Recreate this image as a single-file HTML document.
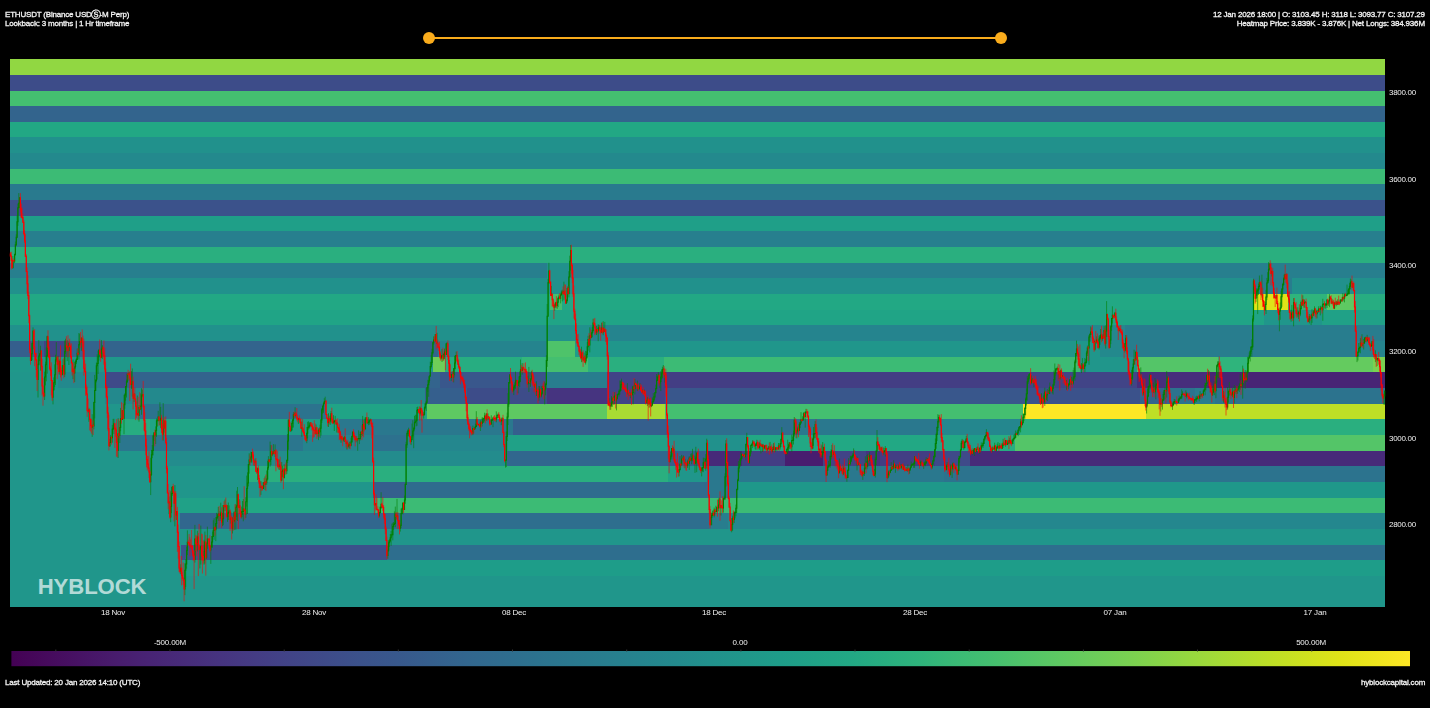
<!DOCTYPE html><html><head><meta charset="utf-8"><title>Hyblock</title><style>
html,body{margin:0;padding:0;background:#000;}
body{width:1430px;height:708px;overflow:hidden;position:relative;font-family:"Liberation Sans",sans-serif;color:#fff;}
.t{position:absolute;white-space:nowrap;font-size:8px;line-height:9px;color:#fff;-webkit-text-stroke:0.3px #f4f4f4;color:#f4f4f4;letter-spacing:-0.193px;will-change:transform;filter:blur(0.25px)}
.ax{position:absolute;white-space:nowrap;font-size:8px;line-height:9px;color:#f0f0f0;letter-spacing:-0.2px;will-change:transform;filter:blur(0.2px)}
svg{position:absolute;left:0;top:0}

</style></head><body>
<svg width="1430" height="708" viewBox="0 0 1430 708" >
<rect x="10" y="59" width="1375" height="548" fill="#91d742"/>
<rect x="10" y="75" width="1375" height="532" fill="#3d4c89"/>
<rect x="10" y="91" width="1375" height="516" fill="#44bf70"/>
<rect x="10" y="106" width="1375" height="501" fill="#33648d"/>
<rect x="10" y="122" width="1375" height="485" fill="#22a884"/>
<rect x="10" y="137" width="1375" height="470" fill="#21918c"/>
<rect x="10" y="153" width="1375" height="454" fill="#23898d"/>
<rect x="10" y="169" width="1375" height="438" fill="#3cbb75"/>
<rect x="10" y="184" width="1375" height="423" fill="#297a8e"/>
<rect x="10" y="200" width="1375" height="407" fill="#3b528b"/>
<rect x="10" y="216" width="1375" height="391" fill="#1f9f88"/>
<rect x="10" y="231" width="1375" height="376" fill="#277f8e"/>
<rect x="10" y="247" width="1375" height="360" fill="#2aaf7f"/>
<rect x="10" y="263" width="1375" height="344" fill="#277f8e"/>
<rect x="547" y="263" width="838" height="344" fill="#21918c"/>
<rect x="571" y="263" width="814" height="344" fill="#277f8e"/>
<rect x="10" y="278" width="1375" height="329" fill="#21918c"/>
<rect x="1253" y="278" width="132" height="329" fill="#287d8e"/>
<rect x="1292" y="278" width="93" height="329" fill="#21918c"/>
<rect x="10" y="294" width="1375" height="313" fill="#22a884"/>
<rect x="550" y="294" width="835" height="313" fill="#44bf70"/>
<rect x="562" y="294" width="823" height="313" fill="#22a884"/>
<rect x="1253" y="294" width="132" height="313" fill="#dfe318"/>
<rect x="1288" y="294" width="97" height="313" fill="#2fb47c"/>
<rect x="1327" y="294" width="58" height="313" fill="#5ec962"/>
<rect x="1355" y="294" width="30" height="313" fill="#27ad81"/>
<rect x="10" y="310" width="1375" height="297" fill="#20a486"/>
<rect x="1264" y="310" width="121" height="297" fill="#20968b"/>
<rect x="1322" y="310" width="63" height="297" fill="#20a187"/>
<rect x="10" y="325" width="1375" height="282" fill="#21918c"/>
<rect x="590" y="325" width="795" height="282" fill="#25848e"/>
<rect x="1091" y="325" width="294" height="282" fill="#24878e"/>
<rect x="1125" y="325" width="260" height="282" fill="#287d8e"/>
<rect x="10" y="341" width="1375" height="266" fill="#355f8d"/>
<rect x="44" y="341" width="1341" height="266" fill="#414487"/>
<rect x="67" y="341" width="1318" height="266" fill="#33648d"/>
<rect x="438" y="341" width="947" height="266" fill="#25848e"/>
<rect x="547" y="341" width="838" height="266" fill="#4ec36a"/>
<rect x="575" y="341" width="810" height="266" fill="#1e9d89"/>
<rect x="608" y="341" width="777" height="266" fill="#20968b"/>
<rect x="1100" y="341" width="285" height="266" fill="#23898d"/>
<rect x="1127" y="341" width="258" height="266" fill="#287d8e"/>
<rect x="1355" y="341" width="30" height="266" fill="#25848e"/>
<rect x="10" y="357" width="1375" height="250" fill="#1f988a"/>
<rect x="433" y="357" width="952" height="250" fill="#6fce58"/>
<rect x="445" y="357" width="940" height="250" fill="#27ad81"/>
<rect x="522" y="357" width="863" height="250" fill="#33b67a"/>
<rect x="547" y="357" width="838" height="250" fill="#44bf70"/>
<rect x="588" y="357" width="797" height="250" fill="#2aaf7f"/>
<rect x="664" y="357" width="721" height="250" fill="#3cbb75"/>
<rect x="1080" y="357" width="305" height="250" fill="#20968b"/>
<rect x="1137" y="357" width="248" height="250" fill="#54c568"/>
<rect x="1218" y="357" width="167" height="250" fill="#2fb47c"/>
<rect x="1248" y="357" width="137" height="250" fill="#64cb5f"/>
<rect x="1373" y="357" width="12" height="250" fill="#7ad151"/>
<rect x="10" y="372" width="1375" height="235" fill="#20968b"/>
<rect x="58" y="372" width="1327" height="235" fill="#23898d"/>
<rect x="105" y="372" width="1280" height="235" fill="#3f4a89"/>
<rect x="127" y="372" width="1258" height="235" fill="#33648d"/>
<rect x="440" y="372" width="945" height="235" fill="#39578c"/>
<rect x="509" y="372" width="876" height="235" fill="#3b528b"/>
<rect x="547" y="372" width="838" height="235" fill="#287d8e"/>
<rect x="607" y="372" width="778" height="235" fill="#414487"/>
<rect x="664" y="372" width="721" height="235" fill="#433e84"/>
<rect x="1028" y="372" width="357" height="235" fill="#414487"/>
<rect x="1137" y="372" width="248" height="235" fill="#472e7c"/>
<rect x="1208" y="372" width="177" height="235" fill="#482475"/>
<rect x="10" y="388" width="1375" height="219" fill="#20968b"/>
<rect x="105" y="388" width="1280" height="219" fill="#23898d"/>
<rect x="425" y="388" width="960" height="219" fill="#355f8d"/>
<rect x="467" y="388" width="918" height="219" fill="#3d4c89"/>
<rect x="547" y="388" width="838" height="219" fill="#463480"/>
<rect x="607" y="388" width="778" height="219" fill="#414487"/>
<rect x="665" y="388" width="720" height="219" fill="#39578c"/>
<rect x="1028" y="388" width="357" height="219" fill="#3b528b"/>
<rect x="1140" y="388" width="245" height="219" fill="#33648d"/>
<rect x="1170" y="388" width="215" height="219" fill="#2c738e"/>
<rect x="1195" y="388" width="190" height="219" fill="#287d8e"/>
<rect x="1215" y="388" width="170" height="219" fill="#2c738e"/>
<rect x="10" y="404" width="1375" height="203" fill="#20968b"/>
<rect x="140" y="404" width="1245" height="203" fill="#2c738e"/>
<rect x="326" y="404" width="1059" height="203" fill="#20a486"/>
<rect x="427" y="404" width="958" height="203" fill="#5ec962"/>
<rect x="607" y="404" width="778" height="203" fill="#a9db33"/>
<rect x="665" y="404" width="720" height="203" fill="#44bf70"/>
<rect x="1023" y="404" width="362" height="203" fill="#fde725"/>
<rect x="1146" y="404" width="239" height="203" fill="#bddf26"/>
<rect x="10" y="419" width="1375" height="188" fill="#20968b"/>
<rect x="119" y="419" width="1266" height="188" fill="#27ad81"/>
<rect x="150" y="419" width="1235" height="188" fill="#20a486"/>
<rect x="290" y="419" width="1095" height="188" fill="#1e9d89"/>
<rect x="339" y="419" width="1046" height="188" fill="#2a788e"/>
<rect x="513" y="419" width="872" height="188" fill="#355f8d"/>
<rect x="667" y="419" width="718" height="188" fill="#2e6e8e"/>
<rect x="800" y="419" width="585" height="188" fill="#2a788e"/>
<rect x="937" y="419" width="448" height="188" fill="#24878e"/>
<rect x="1020" y="419" width="365" height="188" fill="#2aaf7f"/>
<rect x="10" y="435" width="1375" height="172" fill="#20968b"/>
<rect x="118" y="435" width="1267" height="172" fill="#2b768e"/>
<rect x="303" y="435" width="1082" height="172" fill="#25848e"/>
<rect x="374" y="435" width="1011" height="172" fill="#2d718e"/>
<rect x="407" y="435" width="978" height="172" fill="#24878e"/>
<rect x="508" y="435" width="877" height="172" fill="#20a187"/>
<rect x="668" y="435" width="717" height="172" fill="#21918c"/>
<rect x="747" y="435" width="638" height="172" fill="#22a884"/>
<rect x="967" y="435" width="418" height="172" fill="#1e9d89"/>
<rect x="990" y="435" width="395" height="172" fill="#27ad81"/>
<rect x="1015" y="435" width="370" height="172" fill="#54c568"/>
<rect x="10" y="451" width="1375" height="156" fill="#20968b"/>
<rect x="168" y="451" width="1217" height="156" fill="#238c8d"/>
<rect x="507" y="451" width="878" height="156" fill="#31678e"/>
<rect x="669" y="451" width="716" height="156" fill="#355f8d"/>
<rect x="707" y="451" width="678" height="156" fill="#472a79"/>
<rect x="742" y="451" width="643" height="156" fill="#433e84"/>
<rect x="785" y="451" width="600" height="156" fill="#481d6f"/>
<rect x="823" y="451" width="562" height="156" fill="#414487"/>
<rect x="866" y="451" width="519" height="156" fill="#463480"/>
<rect x="880" y="451" width="505" height="156" fill="#433e84"/>
<rect x="935" y="451" width="450" height="156" fill="#3f4a89"/>
<rect x="970" y="451" width="415" height="156" fill="#472a79"/>
<rect x="10" y="466" width="1375" height="141" fill="#20968b"/>
<rect x="248" y="466" width="1137" height="141" fill="#2aaf7f"/>
<rect x="668" y="466" width="717" height="141" fill="#20a486"/>
<rect x="680" y="466" width="705" height="141" fill="#20968b"/>
<rect x="707" y="466" width="678" height="141" fill="#2a788e"/>
<rect x="944" y="466" width="441" height="141" fill="#2c738e"/>
<rect x="10" y="482" width="1375" height="125" fill="#20968b"/>
<rect x="373" y="482" width="1012" height="125" fill="#355f8d"/>
<rect x="406" y="482" width="979" height="125" fill="#2f6c8e"/>
<rect x="707" y="482" width="678" height="125" fill="#2a788e"/>
<rect x="738" y="482" width="647" height="125" fill="#1f988a"/>
<rect x="10" y="498" width="1375" height="109" fill="#20968b"/>
<rect x="177" y="498" width="1208" height="109" fill="#20a187"/>
<rect x="246" y="498" width="1139" height="109" fill="#22a884"/>
<rect x="376" y="498" width="1009" height="109" fill="#3cbb75"/>
<rect x="10" y="513" width="1375" height="94" fill="#20968b"/>
<rect x="180" y="513" width="1205" height="94" fill="#31678e"/>
<rect x="390" y="513" width="995" height="94" fill="#2e6e8e"/>
<rect x="709" y="513" width="676" height="94" fill="#287d8e"/>
<rect x="728" y="513" width="657" height="94" fill="#24878e"/>
<rect x="10" y="529" width="1375" height="78" fill="#20968b"/>
<rect x="10" y="545" width="1375" height="62" fill="#20968b"/>
<rect x="181" y="545" width="1204" height="62" fill="#3b528b"/>
<rect x="387" y="545" width="998" height="62" fill="#2e6e8e"/>
<rect x="10" y="560" width="1375" height="47" fill="#20968b"/>
<rect x="185" y="560" width="1200" height="47" fill="#1e9d89"/>
<rect x="10" y="576" width="1375" height="31" fill="#20968b"/>
<rect x="10" y="592" width="1375" height="15" fill="#20968b"/>
</svg>
<svg width="1430" height="708" viewBox="0 0 1430 708">
<path d="M12.9 256.0V268.9M14.6 253.6V263.1M15.4 241.5V255.7M16.3 234.3V246.2M17.1 215.5V238.1M17.9 203.5V225.9M18.8 193.1V207.8M19.6 197.3V208.0M31.3 353.5V360.6M32.1 342.6V360.2M33.0 327.4V348.9M38.0 356.9V397.5M38.8 340.0V365.4M39.6 353.1V361.1M40.5 345.7V370.6M44.6 371.6V400.0M45.5 361.6V385.4M46.3 347.4V381.3M47.2 335.7V373.7M53.0 386.2V404.4M53.8 377.4V389.9M54.7 364.3V387.0M55.5 354.8V385.0M56.3 342.1V362.1M58.0 355.8V369.3M59.7 359.4V374.6M62.2 365.3V374.9M63.0 359.4V371.5M64.7 340.4V376.9M65.5 338.7V353.8M67.2 340.1V361.1M68.9 341.8V365.0M73.0 359.5V379.2M74.7 361.7V382.0M75.5 359.9V368.6M76.4 358.1V364.1M77.2 348.5V359.8M78.9 333.0V359.5M79.7 333.7V345.9M81.4 337.4V350.8M88.9 407.8V421.8M92.2 414.2V436.9M93.9 401.7V429.3M94.7 374.9V418.4M95.6 379.2V390.9M96.4 362.5V382.4M97.2 354.4V379.6M98.1 350.6V374.0M98.9 348.9V360.6M101.4 340.0V357.4M102.3 345.1V359.1M109.8 438.9V447.0M110.6 434.9V442.7M112.3 424.9V442.7M113.1 418.9V429.4M113.9 418.8V434.1M118.1 418.2V458.0M119.8 420.8V443.0M120.6 407.9V431.2M122.3 410.0V419.9M124.0 394.8V434.2M124.8 393.3V408.7M125.6 386.3V400.8M126.5 379.7V397.5M127.3 373.8V382.9M129.0 372.0V380.7M131.5 371.1V388.9M132.3 368.4V396.6M134.0 393.2V402.0M137.3 395.5V415.5M139.0 404.8V421.7M140.7 393.5V410.1M141.5 388.2V414.8M142.3 389.6V397.3M150.7 457.7V495.1M151.5 449.9V476.0M152.3 445.0V458.2M153.2 434.7V455.4M154.0 432.1V440.8M155.7 426.4V444.0M156.5 418.5V436.9M157.4 419.0V426.6M158.2 410.8V420.8M159.9 402.3V425.1M160.7 406.9V427.9M163.2 403.1V440.6M164.9 420.2V432.6M169.0 496.5V514.1M170.7 491.3V522.2M171.5 487.0V513.1M172.4 486.5V495.8M174.9 485.1V526.4M176.6 511.2V520.0M180.7 564.3V574.2M184.9 563.3V595.2M185.7 559.2V587.0M186.6 546.6V568.7M187.4 530.4V555.1M194.9 524.9V562.6M197.4 530.8V551.5M199.9 546.8V568.4M200.8 525.6V564.5M204.1 539.8V564.7M204.9 531.5V563.6M206.6 542.2V559.1M207.4 526.7V548.8M210.8 544.8V563.9M211.6 536.0V548.0M212.5 531.6V547.8M213.3 520.2V536.7M214.1 518.3V539.8M215.8 517.0V541.1M216.6 512.8V528.6M217.5 513.9V518.9M218.3 507.0V520.9M220.0 511.1V521.0M220.8 502.7V518.7M222.5 513.0V526.2M223.3 505.3V525.3M225.0 499.6V511.1M227.5 505.1V521.9M228.3 502.5V520.0M229.1 505.4V517.1M230.8 511.8V523.6M232.5 517.3V533.5M234.2 511.1V530.0M235.8 504.3V529.8M236.7 490.7V516.8M237.5 487.0V521.0M239.2 499.2V507.9M241.7 506.6V518.4M242.5 501.0V514.8M243.3 499.1V521.3M245.8 497.2V517.8M246.7 475.6V506.6M247.5 472.3V514.0M248.4 464.5V486.4M249.2 453.3V473.7M250.9 451.6V462.8M251.7 452.1V462.6M255.0 458.6V466.2M257.5 467.6V480.0M260.9 481.0V494.9M263.4 482.5V489.1M265.0 476.4V490.0M266.7 470.5V484.9M267.6 460.9V480.5M268.4 456.2V469.9M270.1 441.6V466.5M270.9 445.1V465.2M272.6 450.9V456.1M273.4 444.1V454.2M275.1 444.4V457.0M279.2 459.5V470.0M281.7 462.0V481.4M282.6 465.7V476.9M284.2 464.3V478.6M286.8 459.4V473.9M287.6 434.0V462.9M288.4 419.9V449.8M290.9 427.9V431.8M291.8 421.3V430.3M292.6 419.1V427.7M293.4 412.2V427.5M295.1 407.2V417.6M298.4 418.3V424.0M301.8 421.4V436.7M306.8 426.9V443.2M307.6 421.8V438.4M308.5 421.3V429.6M309.3 423.3V428.6M310.1 422.0V427.3M316.0 424.5V434.6M318.5 428.4V440.1M320.1 424.7V437.9M321.0 419.1V435.6M321.8 408.0V423.0M322.7 405.9V413.7M323.5 402.3V412.8M324.3 398.2V403.8M325.2 396.7V401.9M328.5 413.2V427.0M330.2 415.6V424.8M331.0 411.1V422.4M333.5 415.2V423.4M334.3 420.2V431.0M335.2 415.9V423.6M336.8 421.9V432.5M341.0 436.2V442.8M343.5 437.4V441.4M344.4 435.9V442.0M346.9 441.0V449.6M348.5 443.3V447.5M349.4 441.7V448.6M351.0 437.7V446.4M351.9 436.1V442.2M352.7 431.9V439.8M356.0 435.9V442.4M357.7 438.1V450.8M358.6 430.3V438.9M359.4 438.4V444.1M360.2 431.7V440.4M361.1 431.8V437.2M362.7 415.9V436.1M365.2 417.3V429.8M366.1 417.6V421.3M367.7 419.3V423.1M368.6 417.2V425.2M369.4 419.6V424.6M370.2 418.4V421.6M375.2 503.4V506.2M379.4 511.8V517.3M380.3 506.2V513.4M381.1 492.2V508.9M387.8 545.8V558.7M388.6 540.4V551.8M389.4 538.9V546.9M390.3 534.0V542.4M391.1 531.0V545.9M391.9 523.7V536.6M392.8 522.7V540.4M393.6 522.0V529.9M394.4 511.4V525.2M395.3 506.6V527.2M397.0 498.9V519.3M400.3 523.7V531.6M401.1 508.5V528.2M402.0 507.6V513.9M402.8 502.4V514.5M404.5 495.6V509.6M405.3 483.3V503.8M406.1 441.8V484.8M407.0 431.3V447.9M407.8 429.4V435.9M408.6 427.7V436.4M411.1 437.3V445.1M412.0 423.6V440.4M412.8 420.2V437.5M413.7 426.8V448.2M414.5 415.9V430.3M415.3 414.7V423.6M416.2 415.1V426.4M417.0 407.1V425.8M417.8 406.6V413.5M420.3 406.8V415.6M423.7 412.0V418.6M424.5 406.5V415.4M425.3 403.4V409.4M426.2 400.7V411.0M427.0 387.2V403.5M427.8 379.8V392.0M428.7 376.3V396.8M429.5 375.4V382.8M430.3 361.7V376.9M431.2 355.0V368.5M432.0 348.8V365.1M432.9 341.8V354.5M433.7 336.4V344.7M435.4 334.3V342.0M437.0 332.8V344.1M441.2 355.0V359.5M442.0 349.1V362.0M443.7 353.5V360.5M444.5 348.6V359.2M446.2 343.7V354.8M447.0 342.0V347.3M451.2 374.7V380.9M452.1 371.3V374.8M453.7 368.0V382.4M454.6 356.0V375.3M455.4 355.2V369.2M456.2 351.6V356.9M472.9 425.6V435.1M474.6 427.6V430.0M475.4 423.7V428.2M476.3 411.2V427.2M478.8 424.3V425.2M480.4 420.2V431.0M482.1 417.5V426.5M482.9 417.2V422.5M483.8 418.3V422.7M484.6 412.7V421.3M486.3 413.5V420.7M488.0 413.4V419.8M491.3 415.3V424.6M492.1 419.2V421.0M493.0 417.6V427.2M496.3 411.3V422.3M497.1 415.2V418.7M498.0 413.4V415.6M501.3 420.6V425.2M502.1 417.1V421.9M505.5 459.5V467.6M506.3 431.5V467.1M507.2 412.6V441.0M508.0 393.1V425.0M508.8 382.0V406.9M509.7 374.1V384.0M513.0 384.1V392.0M513.8 385.4V395.1M514.7 382.4V389.3M515.5 371.6V388.7M516.3 379.8V384.4M518.0 380.0V393.3M518.8 376.4V384.1M519.7 371.4V387.2M520.5 359.5V381.9M522.2 363.1V374.7M528.0 375.8V384.9M528.9 366.9V392.0M530.5 378.8V386.8M531.4 370.9V380.6M534.7 384.1V387.8M536.4 381.3V396.0M538.9 386.0V400.7M539.7 386.0V396.8M541.4 391.7V397.3M542.2 385.7V394.7M544.7 381.6V404.4M545.6 383.1V395.3M546.4 355.2V385.3M547.2 304.0V366.9M548.1 279.0V316.2M548.9 262.8V283.5M551.4 285.9V296.1M554.7 303.5V310.7M555.6 301.8V307.4M557.2 298.7V308.8M558.1 297.8V307.1M558.9 294.6V299.9M560.6 293.5V303.4M561.4 290.6V295.0M562.3 289.7V301.4M563.9 281.7V300.4M566.4 298.9V303.7M567.3 286.6V302.6M568.9 271.2V297.4M569.8 255.7V277.4M570.6 245.0V270.5M581.5 346.7V362.2M584.0 352.6V361.5M585.6 350.9V364.5M586.5 351.4V361.3M587.3 342.0V358.3M588.1 335.8V350.7M589.8 327.3V352.4M591.5 331.9V338.1M592.3 327.1V337.3M593.1 318.7V332.6M596.5 325.9V335.1M598.2 324.4V341.2M599.0 324.8V329.2M601.5 322.7V332.9M603.2 321.2V335.2M604.8 321.9V331.7M609.0 398.3V405.8M610.7 402.8V409.8M611.5 396.2V406.7M612.3 398.1V406.9M614.0 395.7V404.9M614.8 392.1V397.4M616.5 396.9V410.4M617.4 394.4V399.4M618.2 393.1V395.4M619.0 389.6V396.6M619.9 380.4V394.6M620.7 380.7V391.1M621.5 378.6V387.8M627.4 383.1V394.4M629.0 392.6V396.1M630.7 392.6V398.2M632.4 386.2V395.5M633.2 385.5V404.3M634.9 379.1V394.5M637.4 380.6V391.0M639.1 386.3V390.0M639.9 383.2V389.2M642.4 389.5V392.5M644.1 389.5V393.9M646.6 399.8V402.5M647.4 396.9V406.1M649.1 398.3V407.7M651.6 404.4V407.1M652.4 397.5V405.5M653.3 393.1V402.7M654.1 396.7V401.7M654.9 392.3V398.3M655.8 384.7V393.2M656.6 374.0V389.1M657.4 376.9V381.0M658.3 372.2V380.6M659.9 379.5V387.9M660.8 371.2V391.1M661.6 369.5V379.4M662.4 366.8V378.3M663.3 365.0V374.7M664.9 372.2V382.6M669.9 453.9V462.7M670.8 451.7V459.5M671.6 448.0V457.5M673.3 446.8V459.5M679.1 469.4V476.3M680.0 456.1V470.5M681.6 454.9V465.7M683.3 455.3V461.3M685.0 458.8V468.3M687.5 459.7V467.9M689.2 456.2V469.9M690.8 453.8V461.2M691.7 453.3V464.2M692.5 448.8V461.3M695.0 455.6V472.9M695.8 446.8V463.7M696.7 452.5V472.2M701.7 466.8V476.4M702.5 467.2V471.6M703.3 457.6V472.2M704.2 457.9V464.5M705.8 454.1V470.7M706.7 438.7V461.6M710.9 512.2V525.0M711.7 513.2V525.3M712.5 510.6V516.3M714.2 507.6V517.4M715.9 505.7V513.8M716.7 506.6V512.2M718.4 499.9V511.3M719.2 497.7V508.3M720.9 505.1V515.5M723.4 498.1V512.6M724.2 495.7V500.1M725.1 473.3V500.0M725.9 440.1V486.5M731.7 518.1V532.3M732.6 515.7V530.7M734.2 511.5V523.1M735.1 511.4V518.3M735.9 504.6V516.2M736.7 489.0V513.1M737.6 478.8V490.3M738.4 461.1V480.9M739.2 464.1V472.4M740.1 458.4V466.7M740.9 451.9V461.2M741.7 453.7V458.5M743.4 455.1V456.3M745.1 452.9V457.1M745.9 444.1V460.3M746.8 432.8V446.5M749.3 455.8V463.9M750.1 448.1V456.4M750.9 444.5V453.9M751.8 444.0V445.7M752.6 440.2V448.1M755.1 443.8V449.3M755.9 443.9V449.8M756.8 439.8V446.0M759.3 441.8V449.9M760.9 443.4V453.4M762.6 443.9V451.9M764.3 445.3V448.6M765.1 445.4V450.4M767.6 447.7V450.6M768.5 445.9V449.3M770.1 441.9V450.3M772.6 446.9V452.3M773.5 443.1V449.5M775.1 448.6V452.1M776.0 447.3V450.9M778.5 443.0V449.6M780.2 443.3V449.5M781.0 438.5V447.0M781.8 427.1V441.5M786.8 448.3V455.3M787.7 439.7V453.2M788.5 444.0V451.3M789.3 442.0V448.9M791.8 434.6V451.9M792.7 436.6V440.8M793.5 430.5V444.5M794.3 417.0V436.5M796.8 430.4V438.4M797.7 426.6V431.6M799.4 422.4V431.1M800.2 421.9V428.1M801.0 412.2V423.1M802.7 416.3V421.0M803.5 412.3V420.3M805.2 411.3V427.7M806.0 408.8V414.0M812.7 437.9V449.3M813.5 426.9V445.8M814.4 433.2V438.3M815.2 421.1V438.2M819.4 449.0V452.9M821.9 445.4V456.6M822.7 442.0V457.5M823.6 446.6V453.1M826.9 464.6V475.5M827.7 465.6V470.7M828.6 460.9V467.4M829.4 463.6V466.6M830.2 455.4V467.7M831.1 449.3V459.5M831.9 444.9V457.5M833.6 451.7V454.7M839.4 458.5V473.3M841.1 468.1V471.6M843.6 466.3V475.0M846.9 475.8V481.8M847.8 469.8V477.8M848.6 458.2V470.6M850.3 456.1V465.5M851.1 455.4V462.1M851.9 455.8V459.1M852.8 453.1V458.0M853.6 448.4V456.2M857.0 456.5V470.4M858.6 461.7V465.2M862.8 470.9V479.9M864.5 463.7V475.9M865.3 456.3V469.7M867.0 455.0V469.2M867.8 453.8V466.9M869.5 452.2V461.3M870.3 455.5V458.8M874.5 468.9V475.9M875.3 457.3V477.5M876.2 450.6V465.1M877.0 430.0V451.3M881.2 447.0V450.1M883.7 447.5V454.6M884.5 450.6V451.7M885.3 446.1V456.5M887.8 472.9V478.9M888.7 470.3V477.3M890.4 469.9V473.2M891.2 462.2V471.0M892.9 466.1V469.6M893.7 460.2V468.1M895.4 464.5V472.8M896.2 465.3V467.3M898.7 464.5V469.4M901.2 464.5V469.2M903.7 464.7V469.4M906.2 467.0V471.0M907.9 464.5V471.8M909.6 468.7V473.7M910.4 467.1V470.6M911.2 461.6V467.9M912.1 464.2V465.5M912.9 463.3V465.3M913.7 461.8V467.9M914.6 456.1V467.8M920.4 460.6V466.0M921.2 460.7V464.1M923.7 462.7V468.9M924.6 461.7V465.4M925.4 461.3V466.2M926.2 457.3V463.9M927.9 458.1V461.3M932.1 463.8V468.9M932.9 460.6V464.7M933.8 455.9V461.9M934.6 449.8V457.9M935.4 438.5V457.1M936.3 432.7V448.8M937.1 426.4V440.9M937.9 414.2V431.1M938.8 415.2V423.1M946.3 465.6V469.9M947.1 462.1V469.6M950.5 464.6V475.4M952.1 464.5V477.9M953.0 462.4V470.0M955.5 466.5V469.7M958.0 469.5V475.0M958.8 455.8V471.1M959.6 455.9V462.7M960.5 449.3V457.5M961.3 440.9V450.1M962.1 438.9V444.2M963.8 440.5V449.8M964.7 441.5V448.4M965.5 439.4V442.5M966.3 435.8V442.1M971.3 449.8V453.5M973.0 450.0V455.1M973.8 448.3V451.5M974.7 448.4V456.0M976.3 449.6V452.1M977.2 446.5V449.7M979.7 447.2V454.0M981.3 442.4V450.9M982.2 444.6V447.2M983.0 441.6V447.9M983.9 438.5V443.6M984.7 436.2V440.7M985.5 434.7V438.6M986.4 429.2V436.8M992.2 446.7V452.1M993.9 447.8V449.3M994.7 442.7V450.8M996.4 446.5V451.2M997.2 443.6V449.1M998.0 442.1V448.8M999.7 443.2V448.5M1002.2 444.2V448.9M1003.1 438.8V447.9M1005.6 440.3V446.7M1007.2 442.5V445.2M1008.1 439.8V443.9M1009.7 437.7V444.1M1012.2 439.2V444.4M1013.1 439.0V444.0M1013.9 434.8V439.5M1014.7 433.6V439.1M1015.6 430.5V437.8M1017.2 431.5V434.6M1018.1 429.6V436.2M1018.9 426.7V431.6M1019.8 426.0V429.5M1020.6 418.8V432.4M1022.3 420.2V425.1M1023.1 413.6V423.2M1023.9 413.3V421.1M1024.8 406.9V418.8M1025.6 397.6V415.4M1026.4 388.3V405.5M1027.3 375.9V400.7M1028.1 377.5V383.9M1028.9 373.6V380.6M1029.8 373.2V378.4M1031.4 375.3V383.3M1032.3 377.9V382.1M1033.9 380.2V387.1M1041.5 393.3V403.8M1044.0 393.1V402.4M1044.8 387.7V405.9M1046.5 394.0V400.1M1047.3 389.1V401.1M1049.0 387.6V394.1M1049.8 382.5V394.1M1052.3 386.9V393.4M1053.1 383.7V394.5M1054.0 370.6V385.6M1054.8 363.5V383.3M1055.7 368.5V375.6M1056.5 367.8V370.5M1057.3 366.6V370.6M1059.0 371.0V379.1M1060.7 369.6V379.7M1062.3 375.0V376.7M1066.5 380.0V389.7M1068.2 383.1V389.3M1069.0 382.8V385.9M1069.8 379.1V384.5M1071.5 376.9V384.8M1073.2 369.9V384.7M1074.0 367.6V378.3M1074.9 359.7V380.8M1075.7 353.5V363.5M1076.5 340.6V356.1M1081.5 363.0V373.1M1082.4 358.1V369.7M1084.0 365.7V368.9M1084.9 358.0V372.4M1085.7 359.1V366.2M1086.5 350.8V363.4M1087.4 345.6V356.0M1089.0 335.0V364.8M1089.9 333.3V341.9M1090.7 326.4V334.6M1094.9 339.9V350.6M1096.6 336.4V343.6M1099.1 335.7V349.5M1099.9 335.0V344.9M1100.7 329.0V338.5M1102.4 334.4V340.7M1104.1 325.8V338.2M1105.7 325.4V348.6M1106.6 301.1V336.8M1109.9 338.9V348.1M1110.8 325.2V344.1M1111.6 318.5V330.9M1112.4 306.3V323.5M1114.9 311.9V317.0M1119.1 327.6V331.4M1124.9 343.7V352.5M1125.8 335.0V349.6M1131.6 369.8V385.6M1132.5 366.8V379.8M1133.3 359.4V373.2M1134.1 349.7V364.5M1135.8 350.8V360.1M1140.8 367.4V378.9M1143.3 383.5V395.4M1146.6 401.6V413.5M1147.5 388.7V406.5M1148.3 386.1V397.2M1149.2 377.6V392.9M1150.0 373.6V389.3M1153.3 382.6V393.1M1155.0 378.1V393.4M1155.8 380.4V399.3M1156.7 383.5V385.8M1160.8 397.9V411.5M1162.5 399.1V409.6M1163.3 391.6V401.0M1164.2 390.4V400.4M1165.0 387.3V399.2M1166.7 371.1V397.6M1167.5 376.5V382.9M1172.5 402.9V409.9M1173.4 401.6V405.9M1174.2 398.9V404.1M1175.0 399.4V404.7M1178.4 398.4V403.0M1179.2 395.6V401.5M1180.0 397.4V398.8M1180.9 396.2V398.2M1181.7 389.4V399.1M1182.5 391.3V394.9M1185.9 390.3V396.8M1186.7 392.1V398.4M1194.2 399.2V405.0M1195.1 399.0V402.9M1195.9 396.6V400.9M1196.7 395.7V402.1M1197.6 397.1V399.4M1199.2 396.2V401.3M1200.1 391.2V398.9M1201.8 393.3V396.8M1203.4 389.8V395.4M1204.3 388.1V391.8M1205.1 382.6V395.3M1205.9 383.1V390.4M1206.8 374.9V386.3M1208.4 369.9V382.5M1212.6 386.1V395.8M1213.4 387.7V393.2M1214.3 381.2V395.2M1215.9 375.3V398.3M1216.8 364.6V382.9M1217.6 361.4V367.2M1218.4 361.1V378.3M1223.5 390.8V402.6M1227.6 387.1V409.5M1228.5 390.7V402.5M1229.3 381.9V395.6M1231.8 392.6V395.1M1232.6 388.0V397.1M1234.3 385.1V403.6M1236.0 386.4V393.9M1237.6 389.0V393.8M1238.5 386.1V390.6M1239.3 383.2V392.1M1240.2 374.3V389.9M1241.8 383.9V387.0M1242.7 365.6V398.7M1245.2 370.0V388.7M1246.8 370.5V382.0M1247.7 356.8V373.5M1248.5 357.2V372.4M1249.3 352.4V358.4M1250.2 350.6V361.5M1251.0 346.0V354.0M1251.8 339.3V356.8M1252.7 315.4V350.0M1253.5 278.8V321.6M1256.0 288.6V301.9M1256.9 288.4V298.1M1257.7 288.4V314.1M1258.5 283.6V294.8M1259.4 275.5V289.6M1261.9 274.7V297.6M1265.2 302.0V310.5M1266.0 289.9V314.0M1266.9 277.9V300.1M1267.7 272.2V283.1M1268.5 262.2V282.6M1269.4 262.9V270.8M1271.9 270.4V276.5M1276.1 294.4V298.2M1279.4 310.4V331.3M1280.2 302.4V319.8M1281.1 290.9V308.3M1281.9 288.6V306.8M1282.7 282.8V294.8M1283.6 277.5V285.8M1284.4 273.8V279.2M1286.1 274.0V279.8M1291.1 309.7V321.7M1291.9 304.9V317.5M1293.6 298.1V326.3M1297.8 307.3V316.7M1298.6 310.9V319.0M1300.3 304.6V316.2M1301.1 300.6V309.9M1302.8 295.3V306.0M1304.4 299.7V307.7M1305.3 301.1V303.3M1308.6 318.2V321.7M1309.4 314.0V323.4M1311.1 314.7V325.1M1312.0 309.2V322.9M1313.6 310.0V315.8M1314.5 306.3V313.1M1317.0 309.5V318.3M1318.6 306.3V312.6M1320.3 305.9V315.4M1321.1 305.7V308.6M1322.8 298.8V320.8M1323.6 303.4V304.9M1325.3 303.0V308.7M1326.1 303.5V306.1M1327.0 299.6V308.0M1328.6 299.9V305.8M1329.5 294.2V307.2M1332.0 298.8V304.0M1334.5 301.8V309.1M1336.2 301.5V306.3M1337.8 299.2V304.6M1340.3 299.0V303.2M1341.2 299.3V301.8M1342.8 293.2V301.5M1344.5 293.6V302.4M1346.2 293.9V296.3M1347.0 284.6V295.6M1347.8 289.7V294.3M1348.7 288.4V294.3M1349.5 283.1V294.3M1350.4 278.5V289.3M1351.2 279.5V284.0M1352.9 283.1V287.6M1357.0 350.9V362.1M1357.9 352.0V360.6M1358.7 343.0V352.4M1359.5 346.5V351.7M1360.4 338.1V353.3M1362.0 334.2V346.0M1363.7 339.0V349.5M1364.5 337.7V343.2M1365.4 336.7V342.0M1367.1 334.8V342.0M1371.2 343.2V346.6M1372.1 341.1V345.6M1375.4 350.3V362.1M1377.1 357.1V366.0M1377.9 358.1V361.4M1383.7 393.7V404.6M1384.6 390.0V404.8" stroke="#008000" stroke-opacity="0.6" stroke-width="1" fill="none"/>
<path d="M12.9 260.0V267.9M14.6 254.0V261.4M15.4 244.3V255.0M16.3 236.7V245.3M17.1 221.2V237.7M17.9 207.2V222.2M18.8 202.7V208.2M19.6 197.3V203.7M31.3 353.2V361.0M32.1 343.2V354.2M33.0 330.6V344.2M38.0 363.7V380.1M38.8 355.5V364.7M39.6 353.6V356.5M40.5 350.4V354.6M44.6 376.5V396.4M45.5 364.2V377.5M46.3 355.6V365.2M47.2 336.3V356.6M53.0 389.4V397.8M53.8 382.2V390.4M54.7 374.2V383.2M55.5 359.4V375.2M56.3 357.3V360.4M58.0 360.5V364.8M59.7 360.9V371.9M62.2 370.3V375.2M63.0 364.9V371.3M64.7 351.1V374.5M65.5 345.1V352.1M67.2 346.1V347.5M68.9 343.0V351.1M73.0 368.7V372.0M74.7 366.3V373.4M75.5 361.2V367.3M76.4 359.0V362.2M77.2 352.7V360.0M78.9 344.1V354.4M79.7 341.0V345.1M81.4 337.8V342.5M88.9 409.5V412.3M92.2 424.7V427.7M93.9 401.9V426.5M94.7 389.9V402.9M95.6 380.1V390.9M96.4 365.2V381.1M97.2 363.0V366.2M98.1 356.2V364.0M98.9 350.1V357.2M101.4 348.4V357.8M102.3 346.7V349.4M109.8 441.9V446.3M110.6 436.8V442.9M112.3 428.7V438.2M113.1 427.8V429.7M113.9 423.3V428.8M118.1 433.2V451.1M119.8 427.1V435.7M120.6 418.1V428.1M122.3 410.2V420.1M124.0 404.2V418.7M124.8 394.6V405.2M125.6 385.9V395.6M126.5 381.2V386.9M127.3 373.4V382.2M129.0 373.2V375.0M131.5 383.8V385.1M132.3 381.3V384.8M134.0 393.8V398.7M137.3 413.1V414.8M139.0 406.9V415.9M140.7 405.4V409.3M141.5 395.2V406.4M142.3 394.1V396.2M150.7 473.9V482.3M151.5 454.3V474.9M152.3 450.0V455.3M153.2 435.6V451.0M154.0 432.5V436.6M155.7 429.9V435.4M156.5 420.3V430.9M157.4 420.2V421.3M158.2 416.6V421.2M159.9 419.5V420.6M160.7 417.7V420.5M163.2 419.6V434.8M164.9 420.8V428.5M169.0 501.5V503.2M170.7 505.9V517.4M171.5 492.9V506.9M172.4 486.2V493.9M174.9 493.2V503.7M176.6 510.9V515.4M180.7 567.8V571.7M184.9 569.7V589.5M185.7 563.4V570.7M186.6 550.0V564.4M187.4 541.7V551.0M194.9 538.4V560.0M197.4 536.4V545.2M199.9 547.5V549.9M200.8 546.0V548.5M204.1 550.9V560.5M204.9 541.5V551.9M206.6 543.4V558.1M207.4 538.4V544.4M210.8 546.1V550.5M211.6 541.4V547.1M212.5 535.9V542.4M213.3 529.9V536.9M214.1 527.2V530.9M215.8 523.1V530.3M216.6 517.1V524.1M217.5 515.4V518.1M218.3 513.5V516.4M220.0 514.4V516.1M220.8 512.5V515.4M222.5 518.3V522.5M223.3 504.9V519.3M225.0 504.9V507.3M227.5 512.7V516.8M228.3 511.9V513.7M229.1 510.4V512.9M230.8 517.6V520.1M232.5 520.5V528.6M234.2 511.9V521.6M235.8 506.8V519.9M236.7 505.3V507.8M237.5 494.3V506.3M239.2 505.2V507.9M241.7 511.0V516.9M242.5 510.9V512.0M243.3 508.4V511.9M245.8 501.2V514.6M246.7 488.0V502.2M247.5 482.5V489.0M248.4 464.0V483.5M249.2 459.5V465.0M250.9 456.6V461.5M251.7 451.9V457.6M255.0 460.8V462.5M257.5 468.2V472.6M260.9 486.4V488.1M263.4 482.2V489.1M265.0 481.4V485.0M266.7 478.5V483.3M267.6 467.3V479.5M268.4 459.6V468.3M270.1 459.0V461.8M270.9 451.1V460.0M272.6 452.8V454.5M273.4 451.6V453.8M275.1 450.1V453.9M279.2 464.5V466.9M281.7 470.9V480.5M282.6 469.8V471.9M284.2 468.6V477.9M286.8 459.9V471.2M287.6 440.4V460.9M288.4 419.5V441.4M290.9 429.5V431.2M291.8 422.9V430.5M292.6 419.8V423.9M293.4 414.2V420.8M295.1 412.7V416.1M298.4 418.0V419.7M301.8 427.3V428.7M306.8 432.7V440.7M307.6 427.1V433.7M308.5 426.3V428.1M309.3 424.9V427.3M310.1 422.6V425.9M316.0 427.2V434.2M318.5 429.7V434.1M320.1 427.8V432.3M321.0 419.4V428.8M321.8 409.3V420.4M322.7 405.6V410.3M323.5 403.3V406.6M324.3 401.2V404.3M325.2 400.7V402.2M328.5 418.6V423.0M330.2 418.3V421.6M331.0 413.3V419.3M333.5 421.3V423.2M334.3 420.7V422.3M335.2 420.0V421.7M336.8 422.8V424.5M341.0 436.0V438.9M343.5 438.3V439.9M344.4 436.9V439.3M346.9 442.3V444.1M348.5 444.8V446.4M349.4 444.0V445.8M351.0 441.4V445.7M351.9 435.8V442.4M352.7 431.5V436.8M356.0 438.3V439.9M357.7 438.2V440.4M358.6 438.0V439.2M359.4 437.9V439.0M360.2 434.0V438.9M361.1 431.6V435.0M362.7 424.0V434.1M365.2 418.7V429.3M366.1 417.2V419.7M367.7 421.9V423.5M368.6 421.4V422.9M369.4 420.1V422.4M370.2 419.5V421.1M375.2 502.9V505.3M379.4 511.9V515.7M380.3 507.1V512.9M381.1 503.8V508.1M387.8 549.8V555.9M388.6 542.3V550.8M389.4 540.3V543.3M390.3 537.2V541.3M391.1 534.2V538.2M391.9 534.2V535.2M392.8 525.9V535.2M393.6 524.0V526.9M394.4 523.0V525.0M395.3 513.8V524.0M397.0 515.4V517.0M400.3 525.0V528.8M401.1 512.9V526.0M402.0 508.6V513.9M402.8 502.7V509.6M404.5 499.5V510.1M405.3 484.0V500.5M406.1 444.3V485.0M407.0 433.1V445.3M407.8 430.5V434.1M408.6 430.3V431.5M411.1 439.1V442.0M412.0 435.3V440.1M412.8 430.4V436.3M413.7 428.1V431.4M414.5 421.9V429.1M415.3 420.8V422.9M416.2 419.7V421.8M417.0 409.7V420.7M417.8 409.1V410.7M420.3 408.1V413.4M423.7 413.7V415.5M424.5 407.3V414.7M425.3 403.4V408.3M426.2 401.8V404.4M427.0 387.2V402.8M427.8 384.2V388.2M428.7 380.3V385.2M429.5 375.4V381.3M430.3 366.1V376.4M431.2 361.9V367.1M432.0 352.3V362.9M432.9 342.3V353.3M433.7 339.4V343.3M435.4 334.1V340.7M437.0 342.4V343.6M441.2 355.7V358.5M442.0 355.3V356.7M443.7 353.8V358.7M444.5 351.6V354.8M446.2 343.2V354.9M447.0 343.2V344.2M451.2 374.3V377.9M452.1 373.9V375.3M453.7 368.3V377.4M454.6 362.4V369.3M455.4 355.2V363.4M456.2 355.1V356.2M472.9 427.9V433.6M474.6 427.5V430.0M475.4 426.1V428.5M476.3 419.3V427.1M478.8 424.1V425.2M480.4 422.2V426.6M482.1 421.8V424.0M482.9 418.6V422.8M483.8 418.0V419.6M484.6 415.4V419.0M486.3 413.5V419.2M488.0 416.3V419.2M491.3 419.9V424.4M492.1 419.0V420.9M493.0 417.6V420.0M496.3 417.3V419.8M497.1 414.8V418.3M498.0 414.6V415.8M501.3 420.1V421.2M502.1 418.0V421.1M505.5 459.7V461.0M506.3 435.9V460.7M507.2 416.5V436.9M508.0 403.6V417.5M508.8 382.0V404.6M509.7 374.5V383.0M513.0 389.4V390.4M513.8 386.8V390.4M514.7 384.8V387.8M515.5 380.4V385.8M516.3 380.1V381.4M518.0 382.1V385.9M518.8 381.2V383.1M519.7 375.9V382.2M520.5 369.2V376.9M522.2 367.1V370.9M528.0 382.5V383.8M528.9 381.9V383.5M530.5 378.6V382.9M531.4 372.5V379.6M534.7 384.2V385.9M536.4 389.7V391.8M538.9 393.9V397.8M539.7 389.3V394.9M541.4 392.8V395.6M542.2 386.2V393.8M544.7 388.5V390.4M545.6 383.7V389.5M546.4 360.0V384.7M547.2 315.7V361.0M548.1 282.2V316.7M548.9 270.5V283.2M551.4 293.6V295.9M554.7 304.8V307.8M555.6 302.6V305.8M557.2 301.8V306.0M558.1 297.8V302.8M558.9 296.4V298.8M560.6 294.4V298.7M561.4 292.5V295.4M562.3 291.5V293.5M563.9 290.7V294.0M566.4 300.0V303.6M567.3 287.9V301.0M568.9 276.5V294.1M569.8 260.8V277.5M570.6 250.1V261.8M581.5 352.6V358.2M584.0 356.8V360.6M585.6 357.6V362.8M586.5 354.0V358.6M587.3 346.3V355.0M588.1 338.9V347.3M589.8 335.3V345.5M591.5 332.5V337.6M592.3 330.0V333.5M593.1 322.5V331.0M596.5 329.0V332.5M598.2 327.8V331.4M599.0 326.9V328.8M601.5 327.6V332.5M603.2 327.7V332.4M604.8 329.2V331.9M609.0 402.7V405.3M610.7 404.6V406.4M611.5 402.3V405.6M612.3 397.7V403.3M614.0 396.6V400.9M614.8 395.5V397.6M616.5 397.7V400.6M617.4 394.1V398.7M618.2 393.5V395.1M619.0 390.7V394.5M619.9 389.8V391.7M620.7 384.3V390.8M621.5 382.2V385.3M627.4 389.9V392.5M629.0 392.4V393.4M630.7 393.4V395.2M632.4 392.0V395.0M633.2 386.6V393.0M634.9 382.8V389.1M637.4 385.2V386.4M639.1 387.5V388.9M639.9 386.8V388.5M642.4 390.0V392.2M644.1 390.4V394.1M646.6 399.9V403.0M647.4 398.8V400.9M649.1 399.6V404.6M651.6 404.4V406.2M652.4 401.2V405.4M653.3 399.2V402.2M654.1 396.3V400.2M654.9 392.2V397.3M655.8 387.9V393.2M656.6 379.7V388.9M657.4 376.6V380.7M658.3 374.7V377.6M659.9 381.1V383.4M660.8 376.4V382.1M661.6 372.6V377.4M662.4 369.1V373.6M663.3 368.5V370.1M664.9 372.7V375.2M669.9 458.6V461.9M670.8 455.6V459.6M671.6 448.0V456.6M673.3 448.8V451.2M679.1 469.0V472.4M680.0 463.8V470.0M681.6 458.4V465.2M683.3 456.6V459.8M685.0 462.2V463.4M687.5 461.3V466.0M689.2 457.6V463.8M690.8 458.4V460.9M691.7 458.2V459.4M692.5 455.4V459.2M695.0 462.3V463.9M695.8 457.4V463.3M696.7 452.8V458.4M701.7 468.3V470.9M702.5 466.9V469.3M703.3 462.3V467.9M704.2 461.8V463.3M705.8 458.5V468.5M706.7 442.7V459.5M710.9 517.0V525.2M711.7 515.0V518.0M712.5 513.1V516.0M714.2 509.4V515.6M715.9 510.9V512.1M716.7 507.2V511.9M718.4 504.5V508.5M719.2 498.4V505.5M720.9 504.9V508.2M723.4 498.2V508.6M724.2 497.5V499.2M725.1 476.2V498.5M725.9 443.6V477.2M731.7 523.9V530.5M732.6 517.8V524.9M734.2 512.5V519.9M735.1 512.1V513.5M735.9 507.8V513.1M736.7 488.8V508.8M737.6 479.7V489.8M738.4 467.5V480.7M739.2 464.2V468.5M740.1 459.2V465.2M740.9 457.7V460.2M741.7 453.9V458.7M743.4 454.7V455.9M745.1 453.7V457.3M745.9 443.8V454.7M746.8 437.1V444.8M749.3 455.3V462.7M750.1 451.2V456.3M750.9 444.9V452.2M751.8 443.6V445.9M752.6 441.8V444.6M755.1 445.0V446.2M755.9 443.6V446.0M756.8 442.3V444.6M759.3 443.3V448.3M760.9 444.5V445.9M762.6 445.2V447.0M764.3 445.8V448.6M765.1 445.2V446.8M767.6 448.1V450.6M768.5 447.5V449.1M770.1 446.5V450.3M772.6 448.9V451.3M773.5 446.6V449.9M775.1 448.6V449.8M776.0 446.9V449.6M778.5 445.5V449.2M780.2 443.2V447.6M781.0 439.0V444.2M781.8 432.7V440.0M786.8 449.0V453.9M787.7 447.3V450.0M788.5 445.6V448.3M789.3 442.4V446.6M791.8 439.9V447.3M792.7 439.8V440.9M793.5 433.2V440.8M794.3 419.9V434.2M796.8 430.2V433.4M797.7 428.4V431.2M799.4 423.9V430.8M800.2 422.4V424.9M801.0 419.5V423.4M802.7 418.8V420.9M803.5 413.3V419.8M805.2 411.9V416.9M806.0 411.4V412.9M812.7 438.8V448.6M813.5 433.6V439.8M814.4 433.0V434.6M815.2 423.9V434.0M819.4 448.7V449.9M821.9 453.7V455.4M822.7 452.3V454.7M823.6 447.1V453.3M826.9 469.7V475.4M827.7 466.5V470.7M828.6 465.2V467.5M829.4 464.8V466.2M830.2 456.0V465.8M831.1 451.5V457.0M831.9 450.1V452.5M833.6 451.9V454.8M839.4 465.9V473.2M841.1 468.4V470.8M843.6 468.3V473.7M846.9 477.1V478.1M847.8 469.8V478.1M848.6 463.1V470.8M850.3 460.4V464.2M851.1 456.6V461.4M851.9 456.6V457.6M852.8 454.8V457.6M853.6 454.2V455.8M857.0 457.9V460.4M858.6 463.4V464.7M862.8 472.4V475.8M864.5 467.7V473.9M865.3 462.9V468.7M867.0 461.2V467.3M867.8 457.2V462.2M869.5 455.6V460.5M870.3 455.3V456.6M874.5 473.6V475.9M875.3 458.9V474.6M876.2 450.6V459.9M877.0 441.4V451.6M881.2 447.6V450.5M883.7 451.0V453.1M884.5 450.3V452.0M885.3 448.0V451.3M887.8 474.2V478.1M888.7 471.5V475.2M890.4 469.8V472.7M891.2 467.1V470.8M892.9 465.9V469.3M893.7 463.7V466.9M895.4 466.7V468.1M896.2 466.5V467.7M898.7 465.8V469.1M901.2 464.5V467.8M903.7 466.5V469.8M906.2 468.9V470.8M907.9 468.6V470.7M909.6 468.5V470.7M910.4 466.6V469.5M911.2 464.7V467.6M912.1 464.0V465.7M912.9 463.6V465.0M913.7 463.2V464.6M914.6 456.4V464.2M920.4 462.5V465.5M921.2 462.0V463.5M923.7 464.1V466.1M924.6 463.6V465.1M925.4 462.3V464.6M926.2 459.3V463.3M927.9 458.4V461.1M932.1 463.4V467.6M932.9 460.2V464.4M933.8 455.8V461.2M934.6 449.3V456.8M935.4 443.0V450.3M936.3 434.1V444.0M937.1 427.1V435.1M937.9 420.8V428.1M938.8 416.9V421.8M946.3 465.7V470.2M947.1 464.5V466.7M950.5 466.2V474.9M952.1 465.5V468.8M953.0 463.3V466.5M955.5 466.7V468.9M958.0 469.9V474.4M958.8 458.0V470.9M959.6 456.3V459.0M960.5 449.5V457.3M961.3 442.8V450.5M962.1 440.7V443.8M963.8 446.9V448.0M964.7 441.8V447.9M965.5 441.1V442.8M966.3 438.3V442.1M971.3 451.1V453.7M973.0 450.0V453.8M973.8 449.3V451.0M974.7 448.1V450.3M976.3 449.1V452.1M977.2 447.2V450.1M979.7 448.1V452.4M981.3 445.2V449.6M982.2 444.9V446.2M983.0 442.9V445.9M983.9 438.7V443.9M984.7 436.3V439.7M985.5 435.0V437.3M986.4 432.1V436.0M992.2 447.6V450.5M993.9 447.8V449.4M994.7 445.6V448.8M996.4 447.2V450.8M997.2 446.5V448.2M998.0 445.8V447.5M999.7 445.6V448.6M1002.2 444.8V448.7M1003.1 442.7V445.8M1005.6 440.1V445.1M1007.2 443.3V444.9M1008.1 440.4V444.3M1009.7 440.1V442.6M1012.2 440.3V443.8M1013.1 438.6V441.3M1013.9 437.8V439.6M1014.7 436.8V438.8M1015.6 433.5V437.8M1017.2 432.6V434.7M1018.1 429.8V433.6M1018.9 427.2V430.8M1019.8 425.9V428.2M1020.6 421.5V426.9M1022.3 422.3V425.3M1023.1 416.7V423.3M1023.9 414.1V417.7M1024.8 408.0V415.1M1025.6 398.7V409.0M1026.4 393.2V399.7M1027.3 381.2V394.2M1028.1 378.3V382.2M1028.9 374.4V379.3M1029.8 373.4V375.4M1031.4 379.7V383.2M1032.3 379.2V380.7M1033.9 379.8V382.9M1041.5 398.2V403.4M1044.0 395.5V402.3M1044.8 391.4V396.5M1046.5 394.5V398.3M1047.3 392.9V395.5M1049.0 390.1V394.0M1049.8 386.8V391.1M1052.3 388.0V391.0M1053.1 384.5V389.0M1054.0 379.1V385.5M1054.8 372.8V380.1M1055.7 368.6V373.8M1056.5 368.5V369.6M1057.3 368.0V369.5M1059.0 371.0V374.5M1060.7 370.6V377.7M1062.3 375.5V376.9M1066.5 383.2V385.1M1068.2 384.1V386.4M1069.0 383.8V385.1M1069.8 379.4V384.8M1071.5 381.4V382.4M1073.2 377.6V383.6M1074.0 376.1V378.6M1074.9 361.6V377.1M1075.7 353.1V362.6M1076.5 348.5V354.1M1081.5 367.6V368.7M1082.4 364.6V368.6M1084.0 365.5V368.9M1084.9 362.3V366.5M1085.7 361.8V363.3M1086.5 352.5V362.8M1087.4 347.5V353.5M1089.0 336.4V348.5M1089.9 333.9V337.4M1090.7 331.4V334.9M1094.9 341.0V349.7M1096.6 339.5V342.3M1099.1 338.4V347.7M1099.9 336.7V339.4M1100.7 334.6V337.7M1102.4 336.2V339.0M1104.1 330.0V338.6M1105.7 330.4V343.7M1106.6 313.9V331.4M1109.9 339.4V347.7M1110.8 326.2V340.4M1111.6 318.0V327.2M1112.4 314.7V319.0M1114.9 312.7V317.4M1119.1 327.9V330.9M1124.9 343.3V350.9M1125.8 337.7V344.3M1131.6 377.4V384.0M1132.5 367.4V378.4M1133.3 363.4V368.4M1134.1 359.1V364.4M1135.8 352.0V360.5M1140.8 377.4V378.6M1143.3 386.4V393.3M1146.6 403.3V407.4M1147.5 395.4V404.3M1148.3 385.9V396.4M1149.2 385.5V386.9M1150.0 374.8V386.5M1153.3 389.4V391.6M1155.0 388.6V392.1M1155.8 384.5V389.6M1156.7 383.4V385.5M1160.8 402.9V404.6M1162.5 399.4V404.2M1163.3 393.9V400.4M1164.2 390.1V394.9M1165.0 390.0V391.1M1166.7 381.6V391.3M1167.5 378.0V382.6M1172.5 404.3V406.6M1173.4 401.8V405.3M1174.2 401.2V402.8M1175.0 401.0V402.2M1178.4 399.6V403.1M1179.2 398.3V400.6M1180.0 397.4V399.3M1180.9 396.5V398.4M1181.7 394.1V397.5M1182.5 393.6V395.1M1185.9 395.0V396.5M1186.7 393.5V396.0M1194.2 399.6V402.7M1195.1 399.3V400.6M1195.9 398.4V400.3M1196.7 398.1V399.4M1197.6 396.6V399.1M1199.2 395.7V398.5M1200.1 394.4V396.7M1201.8 393.7V395.6M1203.4 390.5V395.5M1204.3 389.1V391.5M1205.1 385.1V390.1M1205.9 383.0V386.1M1206.8 374.7V384.0M1208.4 375.5V379.9M1212.6 391.6V395.2M1213.4 388.7V392.6M1214.3 383.7V389.7M1215.9 376.5V391.3M1216.8 365.3V377.5M1217.6 364.0V366.3M1218.4 362.8V365.0M1223.5 395.6V397.7M1227.6 396.7V407.5M1228.5 390.9V397.7M1229.3 389.4V391.9M1231.8 393.5V395.5M1232.6 391.6V394.5M1234.3 390.4V398.1M1236.0 388.4V391.9M1237.6 388.6V390.5M1238.5 387.6V389.6M1239.3 386.0V388.6M1240.2 384.2V387.0M1241.8 383.6V386.1M1242.7 373.1V384.6M1245.2 377.4V380.1M1246.8 372.3V380.3M1247.7 362.7V373.3M1248.5 357.6V363.7M1249.3 355.5V358.6M1250.2 350.8V356.5M1251.0 347.1V351.8M1251.8 346.2V348.1M1252.7 318.5V347.2M1253.5 280.4V319.5M1256.0 294.4V298.8M1256.9 290.4V295.4M1257.7 289.4V291.4M1258.5 286.1V290.4M1259.4 282.0V287.1M1261.9 294.2V295.3M1265.2 304.1V310.2M1266.0 296.5V305.1M1266.9 282.4V297.5M1267.7 280.0V283.4M1268.5 268.8V281.0M1269.4 264.0V269.8M1271.9 270.9V273.9M1276.1 294.9V298.4M1279.4 310.6V314.9M1280.2 307.6V311.6M1281.1 296.2V308.6M1281.9 288.6V297.2M1282.7 284.0V289.6M1283.6 278.5V285.0M1284.4 274.7V279.5M1286.1 273.7V279.0M1291.1 313.7V318.8M1291.9 312.5V314.7M1293.6 301.9V318.2M1297.8 313.2V314.3M1298.6 312.1V314.2M1300.3 308.1V314.6M1301.1 302.0V309.1M1302.8 299.6V305.6M1304.4 302.1V304.0M1305.3 301.8V303.1M1308.6 318.8V321.7M1309.4 316.3V319.8M1311.1 317.2V318.7M1312.0 313.7V318.2M1313.6 311.6V315.6M1314.5 308.4V312.6M1317.0 310.7V314.2M1318.6 308.4V312.1M1320.3 307.9V309.9M1321.1 307.3V308.9M1322.8 303.8V310.2M1323.6 303.4V304.8M1325.3 304.5V305.5M1326.1 303.7V305.5M1327.0 299.4V304.7M1328.6 300.4V303.4M1329.5 296.6V301.4M1332.0 301.4V303.4M1334.5 302.7V308.4M1336.2 301.4V304.5M1337.8 301.8V304.7M1340.3 300.2V303.6M1341.2 299.5V301.2M1342.8 296.8V300.6M1344.5 294.3V298.7M1346.2 294.9V295.9M1347.0 293.7V295.9M1347.8 292.9V294.7M1348.7 288.6V293.9M1349.5 285.8V289.6M1350.4 281.8V286.8M1351.2 281.3V282.8M1352.9 282.9V287.7M1357.0 355.3V356.8M1357.9 351.7V356.3M1358.7 348.0V352.7M1359.5 347.0V349.0M1360.4 342.4V348.0M1362.0 342.9V346.2M1363.7 342.5V344.1M1364.5 337.5V343.5M1365.4 337.3V338.5M1367.1 337.6V341.0M1371.2 345.0V346.8M1372.1 341.2V346.0M1375.4 354.2V356.4M1377.1 358.0V360.3M1377.9 358.0V359.0M1383.7 395.5V398.4M1384.6 390.9V396.5" stroke="#008000" stroke-width="1.2" fill="none"/>
<path d="M10.4 252.1V256.7M11.3 251.8V269.5M12.1 258.5V268.3M13.8 258.4V261.5M20.4 193.1V212.5M21.3 203.6V217.8M22.1 207.6V218.8M22.9 213.4V222.8M23.8 219.9V235.4M24.6 230.0V242.9M25.4 234.3V256.9M26.3 254.2V272.1M27.1 267.4V293.4M27.9 275.4V299.2M28.8 291.8V323.2M29.6 314.6V353.2M30.5 347.9V364.7M33.8 330.7V349.9M34.6 329.1V366.2M35.5 353.1V360.9M36.3 352.7V377.4M37.1 359.6V391.0M41.3 350.2V370.6M42.1 358.7V395.5M43.0 378.1V405.7M43.8 392.7V397.3M48.0 330.3V350.2M48.8 342.4V358.2M49.7 353.8V370.4M50.5 366.4V376.0M51.3 362.3V395.4M52.2 380.1V400.8M57.2 356.0V379.2M58.8 356.6V374.4M60.5 345.3V377.5M61.3 367.5V380.7M63.8 357.8V378.3M66.4 336.2V351.4M68.0 335.2V357.2M69.7 338.7V347.3M70.5 345.1V358.5M71.4 343.5V363.0M72.2 361.9V375.6M73.9 363.4V383.1M78.0 348.3V355.6M80.5 332.0V347.7M82.2 329.5V346.7M83.0 335.6V359.5M83.9 338.7V375.7M84.7 360.3V372.7M85.6 363.7V395.9M86.4 384.5V394.7M87.2 386.6V416.9M88.1 398.5V412.1M89.7 408.9V430.4M90.6 418.4V431.5M91.4 418.7V433.6M93.1 420.4V435.0M99.7 339.5V354.4M100.6 349.6V361.8M103.1 347.2V357.6M103.9 340.4V364.8M104.8 347.8V372.1M105.6 361.8V387.9M106.4 384.7V398.3M107.3 386.3V418.1M108.1 406.7V431.1M108.9 414.8V450.5M111.4 437.3V444.6M114.8 422.8V447.9M115.6 427.3V436.8M116.4 419.1V456.6M117.3 435.9V457.2M118.9 418.8V438.6M121.5 402.2V423.7M123.1 403.0V419.3M128.1 369.8V379.8M129.8 371.2V401.0M130.6 363.7V384.7M133.1 376.4V409.4M134.8 387.5V400.4M135.6 398.7V420.1M136.5 401.4V417.9M138.1 396.9V420.2M139.8 392.1V409.5M143.2 380.9V408.3M144.0 405.1V430.7M144.8 412.2V435.6M145.7 422.9V455.3M146.5 438.5V467.3M147.3 455.6V470.5M148.2 456.1V468.4M149.0 451.2V478.0M149.8 470.3V482.7M154.8 429.6V446.3M159.0 416.4V425.8M161.5 414.9V433.0M162.4 423.8V440.1M164.0 417.1V435.6M165.7 416.4V444.3M166.5 437.8V473.4M167.4 465.9V493.0M168.2 483.9V509.2M169.9 490.0V518.6M173.2 483.8V492.5M174.0 490.8V521.4M175.7 491.0V519.7M177.4 506.9V551.8M178.2 524.5V558.6M179.1 541.5V572.1M179.9 555.7V573.5M181.6 556.0V585.3M182.4 571.8V578.8M183.2 562.5V585.0M184.1 579.0V601.3M188.2 539.8V545.9M189.1 534.0V544.7M189.9 537.2V556.2M190.7 539.4V548.3M191.6 530.0V549.8M192.4 545.0V555.7M193.2 549.9V560.9M194.1 550.4V589.2M195.8 535.0V551.1M196.6 535.7V556.1M198.3 533.1V576.1M199.1 524.0V549.6M201.6 533.6V560.7M202.4 534.2V573.5M203.3 541.0V563.5M205.8 535.0V575.7M208.3 538.6V545.2M209.1 538.4V548.2M209.9 535.3V552.3M215.0 526.4V535.7M219.1 505.9V527.7M221.6 507.3V527.9M224.1 501.2V518.5M225.8 497.6V509.4M226.6 504.4V517.6M230.0 509.2V530.9M231.7 515.8V539.5M233.3 516.6V530.8M235.0 504.1V522.6M238.3 493.7V529.2M240.0 500.6V514.3M240.8 509.6V518.6M244.2 486.2V510.5M245.0 509.3V519.5M250.0 454.6V465.4M252.5 448.7V458.8M253.4 451.4V465.6M254.2 460.5V465.1M255.9 458.0V472.0M256.7 467.1V474.0M258.4 465.6V482.1M259.2 475.0V488.1M260.0 480.7V496.7M261.7 485.2V490.9M262.5 485.6V490.4M264.2 478.0V487.2M265.9 474.6V491.1M269.2 459.4V462.6M271.7 445.0V456.8M274.2 450.7V454.6M275.9 449.0V471.3M276.7 458.0V461.4M277.6 450.9V467.7M278.4 458.9V469.2M280.1 456.7V469.9M280.9 461.9V482.8M283.4 468.8V489.2M285.1 464.7V474.5M285.9 462.5V474.7M289.3 411.8V427.0M290.1 422.1V431.3M294.3 411.5V418.2M295.9 412.2V415.7M296.8 408.0V420.6M297.6 417.3V422.3M299.3 415.3V421.6M300.1 419.3V423.5M300.9 417.9V428.8M302.6 419.1V432.3M303.5 428.4V434.3M304.3 424.2V435.6M305.1 435.1V440.1M306.0 436.2V441.7M311.0 422.1V426.6M311.8 424.4V430.5M312.6 423.1V441.9M313.5 427.0V437.6M314.3 420.2V437.1M315.1 423.5V433.8M316.8 427.0V438.8M317.6 430.4V436.5M319.3 427.8V436.8M326.0 399.9V414.9M326.8 414.1V419.1M327.7 417.6V426.5M329.3 416.1V424.0M331.8 407.7V423.2M332.7 417.5V424.1M336.0 418.9V424.7M337.7 418.3V432.7M338.5 426.9V433.2M339.3 424.2V440.1M340.2 430.8V439.9M341.9 434.4V441.0M342.7 437.2V446.2M345.2 428.4V441.4M346.0 439.1V447.6M347.7 439.9V449.2M350.2 442.6V449.2M353.5 429.2V437.7M354.4 432.5V440.6M355.2 435.4V446.4M356.9 435.9V441.5M361.9 425.2V440.1M363.6 420.3V437.4M364.4 423.1V431.3M366.9 412.5V423.2M371.1 418.9V425.5M371.9 422.9V438.3M372.7 422.3V463.1M373.6 457.6V495.5M374.4 490.2V515.0M376.1 494.4V510.7M376.9 497.9V509.9M377.8 506.4V513.4M378.6 509.9V518.0M381.9 502.8V508.1M382.8 497.2V511.0M383.6 505.2V517.8M384.4 513.4V524.0M385.3 513.9V534.2M386.1 526.6V540.7M386.9 536.6V559.3M396.1 512.1V519.7M397.8 512.2V529.1M398.6 520.3V526.0M399.5 519.8V534.4M403.6 502.0V513.0M409.5 428.9V437.6M410.3 436.1V444.0M418.7 409.6V413.1M419.5 406.4V420.7M421.2 400.0V420.5M422.0 408.5V432.7M422.8 410.9V416.2M434.5 336.1V341.7M436.2 325.9V349.4M437.9 339.7V348.2M438.7 343.6V350.9M439.5 341.7V357.7M440.4 351.4V360.7M442.9 347.7V360.9M445.4 348.7V370.2M447.9 340.4V360.1M448.7 354.7V371.4M449.5 360.0V381.0M450.4 364.3V377.6M452.9 371.1V381.8M457.1 351.1V361.3M457.9 357.4V364.6M458.7 359.5V368.8M459.6 365.8V373.9M460.4 366.9V384.2M461.2 372.2V381.7M462.1 377.0V379.8M462.9 375.7V383.1M463.7 380.0V387.9M464.6 379.7V392.9M465.4 384.5V400.9M466.2 395.6V411.3M467.1 402.7V421.1M467.9 414.4V424.7M468.8 421.6V430.7M469.6 423.9V438.3M470.4 426.1V432.2M471.3 430.1V435.4M472.1 429.9V434.5M473.8 428.1V433.8M477.1 417.0V425.2M477.9 423.2V425.6M479.6 424.3V427.6M481.3 421.2V427.6M485.4 415.8V423.4M487.1 409.4V421.2M488.8 416.6V418.4M489.6 417.5V425.6M490.5 422.7V424.9M493.8 416.0V420.5M494.6 415.1V421.1M495.5 416.9V421.6M498.8 412.1V418.4M499.6 414.6V422.1M500.5 418.4V422.3M503.0 414.8V433.1M503.8 430.5V447.2M504.6 444.6V462.3M510.5 368.0V379.6M511.3 376.7V390.2M512.2 381.0V393.1M517.2 380.1V395.0M521.3 364.9V372.7M523.0 366.4V372.8M523.9 363.2V372.3M524.7 369.1V373.2M525.5 362.4V373.2M526.4 368.8V378.6M527.2 371.0V387.7M529.7 378.8V383.0M532.2 369.8V384.6M533.0 373.1V386.3M533.9 376.3V392.2M535.5 382.9V394.9M537.2 388.9V391.6M538.0 387.3V403.4M540.5 389.1V397.4M543.1 383.1V388.2M543.9 381.2V399.1M549.7 269.8V283.5M550.6 281.4V295.9M552.2 294.0V306.6M553.1 298.3V307.2M553.9 301.7V319.1M556.4 296.1V307.9M559.7 293.3V298.7M563.1 286.4V294.9M564.8 284.2V298.7M565.6 284.8V303.8M568.1 286.2V294.8M571.4 244.8V273.7M572.3 263.6V283.2M573.1 269.8V296.9M573.9 285.6V318.5M574.8 308.7V320.5M575.6 313.7V333.9M576.4 323.3V343.5M577.3 334.4V345.9M578.1 333.9V346.6M579.0 344.9V354.9M579.8 348.4V356.7M580.6 349.1V359.4M582.3 351.7V361.9M583.1 350.3V366.9M584.8 355.2V362.4M589.0 333.2V345.9M590.6 329.3V339.3M594.0 318.8V325.0M594.8 317.9V335.1M595.6 326.9V334.4M597.3 329.4V333.4M599.8 325.3V333.8M600.7 328.0V340.7M602.3 322.4V334.1M604.0 328.0V332.6M605.7 329.6V342.0M606.5 333.5V344.8M607.3 337.5V359.8M608.2 352.3V406.1M609.8 400.4V409.8M613.2 391.8V404.6M615.7 391.8V408.5M622.4 381.6V390.2M623.2 382.6V389.4M624.0 383.0V389.8M624.9 386.4V390.8M625.7 384.8V391.7M626.5 388.7V396.9M628.2 389.5V399.8M629.9 392.7V396.7M631.5 389.0V404.9M634.1 378.0V391.9M635.7 382.9V384.9M636.6 384.3V389.2M638.2 383.2V391.2M640.7 383.8V390.8M641.6 385.2V393.1M643.2 387.1V395.1M644.9 390.7V396.2M645.7 391.3V404.6M648.2 395.6V420.6M649.9 398.7V407.3M650.7 397.5V416.4M659.1 375.1V385.8M664.1 366.2V377.9M665.8 368.7V396.5M666.6 375.6V418.6M667.4 412.8V437.8M668.3 425.6V458.6M669.1 445.5V473.3M672.5 445.3V453.0M674.1 440.8V461.7M675.0 453.6V462.8M675.8 459.0V469.9M676.6 461.9V477.6M677.5 453.1V472.9M678.3 462.9V476.7M680.8 463.2V467.7M682.5 458.8V460.5M684.1 456.5V467.8M685.8 462.5V470.4M686.6 462.7V470.8M688.3 459.5V463.6M690.0 457.6V460.7M693.3 454.3V460.5M694.2 459.3V464.7M697.5 451.8V463.0M698.3 448.7V465.7M699.2 459.2V467.5M700.0 466.9V470.0M700.8 467.6V473.0M705.0 461.7V468.9M707.5 440.1V469.1M708.4 455.3V497.6M709.2 494.6V513.8M710.0 506.1V528.4M713.4 511.6V515.5M715.0 509.3V515.6M717.5 499.6V516.6M720.0 491.3V520.7M721.7 500.4V508.2M722.5 496.3V512.9M726.7 438.3V467.9M727.6 461.8V485.6M728.4 475.6V499.5M729.2 496.3V508.0M730.1 502.9V520.9M730.9 520.5V531.2M733.4 510.5V522.8M742.6 453.5V455.8M744.3 454.0V457.4M747.6 437.0V448.4M748.4 444.8V463.2M753.4 440.6V444.4M754.3 441.1V447.0M757.6 440.3V449.6M758.4 441.8V447.9M760.1 439.9V446.5M761.8 444.7V446.6M763.5 444.1V451.1M766.0 444.3V450.2M766.8 445.0V453.1M769.3 442.6V454.6M771.0 445.9V451.4M771.8 444.3V453.7M774.3 442.5V452.7M776.8 447.2V450.1M777.6 447.9V450.5M779.3 445.2V450.6M782.7 432.0V443.3M783.5 440.0V447.7M784.3 445.3V454.0M785.2 451.1V454.2M786.0 452.3V454.2M790.2 442.3V449.0M791.0 443.6V449.4M795.2 418.1V426.7M796.0 419.1V438.1M798.5 424.8V437.2M801.9 418.9V421.5M804.4 412.9V418.2M806.9 409.1V418.1M807.7 410.8V417.7M808.5 416.0V436.9M809.4 424.5V432.6M810.2 426.9V447.0M811.0 442.1V453.3M811.9 437.5V449.1M816.0 419.4V436.8M816.9 427.3V439.9M817.7 438.0V446.2M818.6 437.9V452.8M820.2 448.1V457.3M821.1 444.3V458.1M824.4 443.7V455.9M825.2 451.4V463.9M826.1 460.1V482.0M832.7 443.3V458.4M834.4 445.2V458.1M835.3 453.7V466.5M836.1 458.2V462.0M836.9 460.2V468.7M837.8 460.1V470.5M838.6 461.9V478.2M840.3 463.9V470.5M841.9 466.2V473.8M842.8 464.5V475.6M844.4 458.6V471.6M845.3 466.9V478.6M846.1 474.6V479.1M849.4 460.4V464.1M854.5 450.2V459.8M855.3 454.6V460.9M856.1 457.2V463.6M857.8 457.9V465.5M859.5 462.2V465.3M860.3 464.1V475.0M861.1 470.1V475.3M862.0 469.6V477.0M863.6 471.5V473.9M866.1 462.4V473.2M868.6 454.7V462.8M871.1 455.1V464.6M872.0 459.1V467.9M872.8 464.6V475.0M873.7 471.0V476.2M877.8 437.1V445.4M878.7 441.7V450.1M879.5 443.9V450.7M880.3 446.6V451.3M882.0 446.4V453.0M882.8 450.1V455.6M886.2 448.2V454.9M887.0 451.3V482.2M889.5 471.8V475.8M892.0 465.0V469.4M894.5 462.7V468.6M897.0 465.8V469.2M897.9 464.0V470.9M899.5 462.3V469.5M900.4 464.9V468.3M902.0 464.6V466.2M902.9 463.2V469.3M904.5 465.9V471.6M905.4 468.1V471.0M907.0 467.5V471.4M908.7 467.5V474.4M915.4 456.1V461.1M916.2 457.2V461.8M917.1 459.2V461.6M917.9 460.2V464.3M918.7 453.0V464.8M919.6 463.2V468.7M922.1 459.8V466.1M922.9 462.7V467.2M927.1 458.7V461.7M928.8 457.0V463.7M929.6 453.5V464.3M930.4 462.9V466.0M931.3 465.0V469.5M939.6 414.8V420.9M940.4 417.8V425.1M941.3 414.1V442.4M942.1 433.0V442.4M942.9 440.4V451.6M943.8 448.9V461.1M944.6 455.1V471.9M945.5 464.6V470.2M948.0 462.4V474.1M948.8 457.7V471.5M949.6 469.4V477.0M951.3 464.4V471.5M953.8 463.1V472.9M954.6 464.8V468.5M956.3 465.1V471.4M957.1 468.7V480.3M963.0 439.7V448.1M967.2 433.9V443.7M968.0 441.8V448.7M968.8 445.5V452.6M969.7 443.6V450.8M970.5 445.1V455.3M972.2 448.3V453.9M975.5 448.3V451.7M978.0 443.4V450.3M978.8 449.5V453.0M980.5 445.6V452.3M987.2 432.4V440.2M988.0 431.7V438.5M988.9 437.1V441.3M989.7 438.7V446.5M990.5 444.6V450.9M991.4 448.3V452.8M993.0 445.7V449.9M995.5 444.9V451.1M998.9 445.9V451.2M1000.6 446.0V448.0M1001.4 443.2V448.7M1003.9 440.7V445.4M1004.7 437.8V445.9M1006.4 439.9V444.7M1008.9 436.1V449.1M1010.6 435.4V444.5M1011.4 441.4V446.2M1016.4 433.5V434.9M1021.4 415.3V427.8M1030.6 368.2V385.0M1033.1 375.9V383.5M1034.8 378.5V385.1M1035.6 375.9V388.3M1036.4 379.1V390.3M1037.3 384.7V394.6M1038.1 386.0V396.0M1039.0 392.8V397.6M1039.8 393.4V402.8M1040.6 394.4V405.0M1042.3 396.8V408.2M1043.1 398.7V407.6M1045.6 391.5V402.4M1048.1 390.5V393.5M1050.6 385.9V391.3M1051.5 387.6V392.3M1058.2 363.9V380.9M1059.8 364.6V390.6M1061.5 368.4V379.2M1063.2 373.0V383.5M1064.0 376.2V379.5M1064.8 376.3V385.2M1065.7 380.5V386.0M1067.3 378.2V391.0M1070.7 375.6V390.8M1072.3 381.1V387.7M1077.4 344.0V355.4M1078.2 346.5V366.0M1079.0 354.0V368.4M1079.9 344.5V368.1M1080.7 364.9V369.3M1083.2 363.0V372.0M1088.2 346.0V361.0M1091.5 327.4V332.9M1092.4 325.1V342.9M1093.2 335.8V343.1M1094.1 339.0V351.8M1095.7 330.9V342.1M1097.4 333.4V348.1M1098.2 341.0V348.6M1101.6 325.8V342.2M1103.2 332.1V338.8M1104.9 327.8V345.6M1107.4 313.7V319.3M1108.2 317.5V339.7M1109.1 329.9V348.9M1113.3 314.6V318.8M1114.1 315.8V318.4M1115.8 308.7V322.8M1116.6 316.6V327.3M1117.4 320.9V327.4M1118.3 325.7V340.0M1119.9 325.7V332.2M1120.8 325.0V333.4M1121.6 331.1V335.1M1122.4 329.6V348.5M1123.3 339.5V349.7M1124.1 343.8V358.3M1126.6 335.2V354.1M1127.4 347.2V360.6M1128.3 357.5V374.8M1129.1 361.4V377.7M1130.0 373.1V385.4M1130.8 374.1V384.2M1135.0 356.4V364.7M1136.6 344.7V359.3M1137.5 352.0V366.6M1138.3 359.7V370.7M1139.1 368.7V381.9M1140.0 373.6V381.5M1141.6 374.3V385.9M1142.5 379.4V395.9M1144.1 378.3V393.4M1145.0 379.4V406.2M1145.8 396.7V410.6M1150.8 375.0V384.7M1151.7 379.8V392.5M1152.5 386.4V397.1M1154.2 387.1V397.3M1157.5 379.5V392.3M1158.3 380.9V398.0M1159.2 390.1V409.4M1160.0 391.8V415.8M1161.7 398.5V406.9M1165.9 390.2V403.5M1168.4 376.4V392.0M1169.2 383.4V394.5M1170.0 389.7V403.3M1170.9 400.6V407.3M1171.7 402.8V406.6M1175.9 401.4V402.4M1176.7 396.3V405.5M1177.5 402.0V403.4M1183.4 393.0V395.5M1184.2 394.2V395.4M1185.1 391.7V401.6M1187.6 393.3V396.4M1188.4 395.9V400.4M1189.2 392.9V398.9M1190.1 397.4V399.9M1190.9 398.0V400.6M1191.7 398.2V401.1M1192.6 395.8V400.8M1193.4 397.5V403.5M1198.4 394.8V399.3M1200.9 394.8V398.8M1202.6 393.7V397.9M1207.6 368.7V381.7M1209.3 371.2V386.6M1210.1 381.9V392.5M1210.9 382.8V392.9M1211.8 385.6V402.5M1215.1 375.7V393.0M1219.3 356.5V377.6M1220.1 361.5V369.8M1221.0 365.7V380.1M1221.8 371.9V386.0M1222.6 385.3V400.9M1224.3 391.9V402.3M1225.1 388.2V407.5M1226.0 398.4V415.5M1226.8 397.3V410.1M1230.1 389.3V394.8M1231.0 387.8V399.1M1233.5 391.2V408.0M1235.1 389.2V394.4M1236.8 385.8V398.1M1241.0 380.3V394.9M1243.5 368.6V383.1M1244.3 373.4V381.2M1246.0 372.2V380.2M1254.3 279.5V292.4M1255.2 283.6V303.6M1260.2 282.4V285.3M1261.0 280.9V300.0M1262.7 287.7V307.1M1263.5 300.0V306.8M1264.4 301.0V315.4M1270.2 260.3V274.1M1271.0 262.9V285.4M1272.7 267.8V286.4M1273.5 281.9V298.5M1274.4 287.9V298.3M1275.2 296.3V307.0M1276.9 287.6V304.4M1277.7 300.9V313.2M1278.6 307.9V320.3M1285.2 264.6V282.8M1286.9 273.8V288.2M1287.7 279.9V297.3M1288.6 291.8V302.7M1289.4 290.8V312.8M1290.2 311.3V320.0M1292.7 311.0V321.0M1294.4 298.0V309.6M1295.3 303.0V308.0M1296.1 301.9V316.6M1296.9 309.4V318.0M1299.4 304.2V321.4M1301.9 294.4V305.8M1303.6 299.3V307.6M1306.1 298.6V310.9M1306.9 307.0V318.5M1307.8 312.0V322.6M1310.3 314.5V320.6M1312.8 311.5V317.3M1315.3 307.9V317.0M1316.1 311.6V318.7M1317.8 311.0V312.5M1319.5 308.8V312.1M1322.0 307.3V313.5M1324.5 301.2V308.2M1327.8 298.6V305.6M1330.3 296.4V299.7M1331.2 295.3V304.2M1332.8 299.7V305.5M1333.7 299.8V308.6M1335.3 297.7V304.7M1337.0 300.2V305.2M1338.7 295.6V305.0M1339.5 301.5V305.1M1342.0 297.1V301.9M1343.7 296.9V299.1M1345.3 292.8V297.2M1352.0 275.6V290.3M1353.7 281.6V291.4M1354.5 289.9V312.6M1355.4 301.0V332.0M1356.2 326.2V356.5M1361.2 336.3V347.3M1362.9 340.2V348.0M1366.2 337.0V342.5M1367.9 336.5V339.3M1368.7 337.8V345.0M1369.6 337.1V346.4M1370.4 343.4V351.1M1372.9 335.9V354.3M1373.7 339.1V357.6M1374.6 354.1V359.0M1376.2 354.4V366.9M1378.7 351.9V364.7M1379.6 359.0V371.5M1380.4 360.6V377.2M1381.2 371.8V390.7M1382.1 384.2V396.9M1382.9 393.9V403.2" stroke="#ff0000" stroke-opacity="0.6" stroke-width="1" fill="none"/>
<path d="M10.4 253.5V256.4M11.3 255.4V261.1M12.1 260.1V267.9M13.8 260.0V261.4M20.4 197.3V209.5M21.3 208.5V217.4M22.1 216.4V218.0M22.9 217.0V222.7M23.8 221.7V234.0M24.6 233.0V241.5M25.4 240.5V256.7M26.3 255.7V272.1M27.1 271.1V284.2M27.9 283.2V296.1M28.8 295.1V316.2M29.6 315.2V350.2M30.5 349.2V361.0M33.8 330.6V347.6M34.6 346.6V354.3M35.5 353.3V359.9M36.3 358.9V370.1M37.1 369.1V380.1M41.3 350.4V366.7M42.1 365.7V386.4M43.0 385.4V393.8M43.8 392.8V396.4M48.0 336.3V347.8M48.8 346.8V357.4M49.7 356.4V369.2M50.5 368.2V370.8M51.3 369.8V380.9M52.2 379.9V397.8M57.2 357.3V364.8M58.8 360.5V371.9M60.5 360.9V371.8M61.3 370.8V375.2M63.8 364.9V374.5M66.4 345.1V347.5M68.0 346.1V351.1M69.7 343.0V347.0M70.5 346.0V356.9M71.4 355.9V363.5M72.2 362.5V372.0M73.9 368.7V373.4M78.0 352.7V354.4M80.5 341.0V342.5M82.2 337.8V342.4M83.0 341.4V351.3M83.9 350.3V368.7M84.7 367.7V372.0M85.6 371.0V388.5M86.4 387.5V394.5M87.2 393.5V410.9M88.1 409.9V412.3M89.7 409.5V420.1M90.6 419.1V426.3M91.4 425.3V427.7M93.1 424.7V426.5M99.7 350.1V354.8M100.6 353.8V357.8M103.1 346.7V352.8M103.9 351.8V356.2M104.8 355.2V369.6M105.6 368.6V388.3M106.4 387.3V397.2M107.3 396.2V413.4M108.1 412.4V429.3M108.9 428.3V446.3M111.4 436.8V438.2M114.8 423.3V429.2M115.6 428.2V430.6M116.4 429.6V443.0M117.3 442.0V451.1M118.9 433.2V435.7M121.5 418.1V420.1M123.1 410.2V418.7M128.1 373.4V375.0M129.8 373.2V378.6M130.6 377.6V385.1M133.1 381.3V398.7M134.8 393.8V399.6M135.6 398.6V406.8M136.5 405.8V414.8M138.1 413.1V415.9M139.8 406.9V409.3M143.2 394.1V407.1M144.0 406.1V420.7M144.8 419.7V431.5M145.7 430.5V446.6M146.5 445.6V460.0M147.3 459.0V464.5M148.2 463.5V468.5M149.0 467.5V472.4M149.8 471.4V482.3M154.8 432.5V435.4M159.0 416.6V420.6M161.5 417.7V429.2M162.4 428.2V434.8M164.0 419.6V428.5M165.7 420.8V443.0M166.5 442.0V469.3M167.4 468.3V493.4M168.2 492.4V503.2M169.9 501.5V517.4M173.2 486.2V492.8M174.0 491.8V503.7M175.7 493.2V515.4M177.4 510.9V532.7M178.2 531.7V547.1M179.1 546.1V568.4M179.9 567.4V571.7M181.6 567.8V576.1M182.4 575.1V578.4M183.2 577.4V580.7M184.1 579.7V589.5M188.2 541.7V543.2M189.1 542.2V545.1M189.9 544.1V546.5M190.7 545.5V546.7M191.6 545.7V547.3M192.4 546.3V552.5M193.2 551.5V556.4M194.1 555.4V560.0M195.8 538.4V544.0M196.6 543.0V545.2M198.3 536.4V545.5M199.1 544.5V549.9M201.6 546.0V555.8M202.4 554.8V557.0M203.3 556.0V560.5M205.8 541.5V558.1M208.3 538.4V539.8M209.1 538.8V545.9M209.9 544.9V550.5M215.0 527.2V530.3M219.1 513.5V516.1M221.6 512.5V522.5M224.1 504.9V507.3M225.8 504.9V506.4M226.6 505.4V516.8M230.0 510.4V520.1M231.7 517.6V528.6M233.3 520.5V521.6M235.0 511.9V519.9M238.3 494.3V507.9M240.0 505.2V513.9M240.8 512.9V516.9M244.2 508.4V510.8M245.0 509.8V514.6M250.0 459.5V461.5M252.5 451.9V455.5M253.4 454.5V461.5M254.2 460.5V462.5M255.9 460.8V471.7M256.7 470.7V472.6M258.4 468.2V479.0M259.2 478.0V483.8M260.0 482.8V488.1M261.7 486.4V487.5M262.5 486.5V489.1M264.2 482.2V485.0M265.9 481.4V483.3M269.2 459.6V461.8M271.7 451.1V454.5M274.2 451.6V453.9M275.9 450.1V459.4M276.7 458.4V460.1M277.6 459.1V466.4M278.4 465.4V466.9M280.1 464.5V467.4M280.9 466.4V480.5M283.4 469.8V477.9M285.1 468.6V470.2M285.9 469.2V471.2M289.3 419.5V426.8M290.1 425.8V431.2M294.3 414.2V416.1M295.9 412.7V415.5M296.8 414.5V418.5M297.6 417.5V419.7M299.3 418.0V420.0M300.1 419.0V423.0M300.9 422.0V428.7M302.6 427.3V431.5M303.5 430.5V432.8M304.3 431.8V435.9M305.1 434.9V439.6M306.0 438.6V440.7M311.0 422.6V425.9M311.8 424.9V426.9M312.6 425.9V429.4M313.5 428.4V430.5M314.3 429.5V430.9M315.1 429.9V434.2M316.8 427.2V433.6M317.6 432.6V434.1M319.3 429.7V432.3M326.0 400.7V415.0M326.8 414.0V418.8M327.7 417.8V423.0M329.3 418.6V421.6M331.8 413.3V420.3M332.7 419.3V423.2M336.0 420.0V424.5M337.7 422.8V428.1M338.5 427.1V429.2M339.3 428.2V432.4M340.2 431.4V438.9M341.9 436.0V439.2M342.7 438.2V439.9M345.2 436.9V441.6M346.0 440.6V444.1M347.7 442.3V446.4M350.2 444.0V445.7M353.5 431.5V436.0M354.4 435.0V437.5M355.2 436.5V439.9M356.9 438.3V440.4M361.9 431.6V434.1M363.6 424.0V428.6M364.4 427.6V429.3M366.9 417.2V423.5M371.1 419.5V423.9M371.9 422.9V427.0M372.7 426.0V461.8M373.6 460.8V493.9M374.4 492.9V505.3M376.1 502.9V509.6M376.9 508.6V510.1M377.8 509.1V510.5M378.6 509.5V515.7M381.9 503.8V506.4M382.8 505.4V508.0M383.6 507.0V514.7M384.4 513.7V519.3M385.3 518.3V529.4M386.1 528.4V541.0M386.9 540.0V555.9M396.1 513.8V517.0M397.8 515.4V520.9M398.6 519.9V524.2M399.5 523.2V528.8M403.6 502.7V510.1M409.5 430.3V437.1M410.3 436.1V442.0M418.7 409.1V412.4M419.5 411.4V413.4M421.2 408.1V411.3M422.0 410.3V415.4M422.8 414.4V415.5M434.5 339.4V340.7M436.2 334.1V343.6M437.9 342.4V347.6M438.7 346.6V347.8M439.5 346.8V354.6M440.4 353.6V358.5M442.9 355.3V358.7M445.4 351.6V354.9M447.9 343.2V356.9M448.7 355.9V363.8M449.5 362.8V376.5M450.4 375.5V377.9M452.9 373.9V377.4M457.1 355.1V361.5M457.9 360.5V364.8M458.7 363.8V367.6M459.6 366.6V372.1M460.4 371.1V377.3M461.2 376.3V378.5M462.1 377.5V379.2M462.9 378.2V381.3M463.7 380.3V384.5M464.6 383.5V391.3M465.4 390.3V398.0M466.2 397.0V404.0M467.1 403.0V418.2M467.9 417.2V424.5M468.8 423.5V428.7M469.6 427.7V429.9M470.4 428.9V431.5M471.3 430.5V433.2M472.1 432.2V433.6M473.8 427.9V430.0M477.1 419.3V424.6M477.9 423.6V425.2M479.6 424.1V426.6M481.3 422.2V424.0M485.4 415.4V419.2M487.1 413.5V419.2M488.8 416.3V418.3M489.6 417.3V423.7M490.5 422.7V424.4M493.8 417.6V419.0M494.6 418.0V419.1M495.5 418.1V419.8M498.8 414.6V418.0M499.6 417.0V420.8M500.5 419.8V421.2M503.0 418.0V432.9M503.8 431.9V445.1M504.6 444.1V461.0M510.5 374.5V378.3M511.3 377.3V383.6M512.2 382.6V390.4M517.2 380.1V385.9M521.3 369.2V370.9M523.0 367.1V368.6M523.9 367.6V369.9M524.7 368.9V370.3M525.5 369.3V371.8M526.4 370.8V378.7M527.2 377.7V383.8M529.7 381.9V382.9M532.2 372.5V375.6M533.0 374.6V382.9M533.9 381.9V385.9M535.5 384.2V391.8M537.2 389.7V390.9M538.0 389.9V397.8M540.5 389.3V395.6M543.1 386.2V388.0M543.9 387.0V390.4M549.7 270.5V282.8M550.6 281.8V295.9M552.2 293.6V300.3M553.1 299.3V306.0M553.9 305.0V307.8M556.4 302.6V306.0M559.7 296.4V298.7M563.1 291.5V294.0M564.8 290.7V295.1M565.6 294.1V303.6M568.1 287.9V294.1M571.4 250.1V265.9M572.3 264.9V278.5M573.1 277.5V294.2M573.9 293.2V311.7M574.8 310.7V319.5M575.6 318.5V331.0M576.4 330.0V340.0M577.3 339.0V343.2M578.1 342.2V347.0M579.0 346.0V351.4M579.8 350.4V352.4M580.6 351.4V358.2M582.3 352.6V359.4M583.1 358.4V360.6M584.8 356.8V362.8M589.0 338.9V345.5M590.6 335.3V337.6M594.0 322.5V324.3M594.8 323.3V327.8M595.6 326.8V332.5M597.3 329.0V331.4M599.8 326.9V331.1M600.7 330.1V332.5M602.3 327.6V332.4M604.0 327.7V331.9M605.7 329.2V336.3M606.5 335.3V338.6M607.3 337.6V356.2M608.2 355.2V405.3M609.8 402.7V406.4M613.2 397.7V400.9M615.7 395.5V400.6M622.4 382.2V383.8M623.2 382.8V388.6M624.0 387.6V388.8M624.9 387.8V389.0M625.7 388.0V391.8M626.5 390.8V392.5M628.2 389.9V393.4M629.9 392.4V395.2M631.5 393.4V395.0M634.1 386.6V389.1M635.7 382.8V385.1M636.6 384.1V386.4M638.2 385.2V388.9M640.7 386.8V390.7M641.6 389.7V392.2M643.2 390.0V394.1M644.9 390.4V396.2M645.7 395.2V403.0M648.2 398.8V404.6M649.9 399.6V403.7M650.7 402.7V406.2M659.1 374.7V383.4M664.1 368.5V375.2M665.8 372.7V385.9M666.6 384.9V415.6M667.4 414.6V433.8M668.3 432.8V446.7M669.1 445.7V461.9M672.5 448.0V451.2M674.1 448.8V460.5M675.0 459.5V463.2M675.8 462.2V464.7M676.6 463.7V467.3M677.5 466.3V472.0M678.3 471.0V472.4M680.8 463.8V465.2M682.5 458.4V459.8M684.1 456.6V463.4M685.8 462.2V465.0M686.6 464.0V466.0M688.3 461.3V463.8M690.0 457.6V460.9M693.3 455.4V460.1M694.2 459.1V463.9M697.5 452.8V460.8M698.3 459.8V464.2M699.2 463.2V467.4M700.0 466.4V470.3M700.8 469.3V470.9M705.0 461.8V468.5M707.5 442.7V460.3M708.4 459.3V495.5M709.2 494.5V509.9M710.0 508.9V525.2M713.4 513.1V515.6M715.0 509.4V512.1M717.5 507.2V508.5M720.0 498.4V508.2M721.7 504.9V508.0M722.5 507.0V508.6M726.7 443.6V462.9M727.6 461.9V484.1M728.4 483.1V499.1M729.2 498.1V507.5M730.1 506.5V521.2M730.9 520.2V530.5M733.4 517.8V519.9M742.6 453.9V455.9M744.3 454.7V457.3M747.6 437.1V446.4M748.4 445.4V462.7M753.4 441.8V443.6M754.3 442.6V446.2M757.6 442.3V446.4M758.4 445.4V448.3M760.1 443.3V445.9M761.8 444.5V447.0M763.5 445.2V448.6M766.0 445.2V449.1M766.8 448.1V450.6M769.3 447.5V450.3M771.0 446.5V449.3M771.8 448.3V451.3M774.3 446.6V449.8M776.8 446.9V448.5M777.6 447.5V449.2M779.3 445.5V447.6M782.7 432.7V441.8M783.5 440.8V446.9M784.3 445.9V452.1M785.2 451.1V453.2M786.0 452.2V453.9M790.2 442.4V445.4M791.0 444.4V447.3M795.2 419.9V422.6M796.0 421.6V433.4M798.5 428.4V430.8M801.9 419.5V420.9M804.4 413.3V416.9M806.9 411.4V412.6M807.7 411.6V416.6M808.5 415.6V427.0M809.4 426.0V429.4M810.2 428.4V443.4M811.0 442.4V446.9M811.9 445.9V448.6M816.0 423.9V433.0M816.9 432.0V439.6M817.7 438.6V442.2M818.6 441.2V449.9M820.2 448.7V453.9M821.1 452.9V455.4M824.4 447.1V451.9M825.2 450.9V460.6M826.1 459.6V475.4M832.7 450.1V454.8M834.4 451.9V455.6M835.3 454.6V460.9M836.1 459.9V460.9M836.9 459.9V465.2M837.8 464.2V466.8M838.6 465.8V473.2M840.3 465.9V470.8M841.9 468.4V470.6M842.8 469.6V473.7M844.4 468.3V471.8M845.3 470.8V476.3M846.1 475.3V478.1M849.4 463.1V464.2M854.5 454.2V455.9M855.3 454.9V458.5M856.1 457.5V460.4M857.8 457.9V464.7M859.5 463.4V465.0M860.3 464.0V472.4M861.1 471.4V472.5M862.0 471.5V475.8M863.6 472.4V473.9M866.1 462.9V467.3M868.6 457.2V460.5M871.1 455.3V461.4M872.0 460.4V465.8M872.8 464.8V471.7M873.7 470.7V475.9M877.8 441.4V445.1M878.7 444.1V446.2M879.5 445.2V449.3M880.3 448.3V450.5M882.0 447.6V451.7M882.8 450.7V453.1M886.2 448.0V454.3M887.0 453.3V478.1M889.5 471.5V472.7M892.0 467.1V469.3M894.5 463.7V468.1M897.0 466.5V468.4M897.9 467.4V469.1M899.5 465.8V467.7M900.4 466.7V467.8M902.0 464.5V465.8M902.9 464.8V469.8M904.5 466.5V470.2M905.4 469.2V470.8M907.0 468.9V470.7M908.7 468.6V470.7M915.4 456.4V459.5M916.2 458.5V460.0M917.1 459.0V460.7M917.9 459.7V462.0M918.7 461.0V463.9M919.6 462.9V465.5M922.1 462.0V464.5M922.9 463.5V466.1M927.1 459.3V461.1M928.8 458.4V462.2M929.6 461.2V464.3M930.4 463.3V465.9M931.3 464.9V467.6M939.6 416.9V419.3M940.4 418.3V425.4M941.3 424.4V438.0M942.1 437.0V441.2M942.9 440.2V450.0M943.8 449.0V459.0M944.6 458.0V468.9M945.5 467.9V470.2M948.0 464.5V466.6M948.8 465.6V470.0M949.6 469.0V474.9M951.3 466.2V468.8M953.8 463.3V465.8M954.6 464.8V468.9M956.3 466.7V470.7M957.1 469.7V474.4M963.0 440.7V448.0M967.2 438.3V442.5M968.0 441.5V446.2M968.8 445.2V448.0M969.7 447.0V450.4M970.5 449.4V453.7M972.2 451.1V453.8M975.5 448.1V452.1M978.0 447.2V450.5M978.8 449.5V452.4M980.5 448.1V449.6M987.2 432.1V434.3M988.0 433.3V438.4M988.9 437.4V441.0M989.7 440.0V446.9M990.5 445.9V450.4M991.4 449.4V450.5M993.0 447.6V449.4M995.5 445.6V450.8M998.9 445.8V448.6M1000.6 445.6V446.7M1001.4 445.7V448.7M1003.9 442.7V444.4M1004.7 443.4V445.1M1006.4 440.1V444.9M1008.9 440.4V442.6M1010.6 440.1V443.2M1011.4 442.2V443.8M1016.4 433.5V434.7M1021.4 421.5V425.3M1030.6 373.4V383.2M1033.1 379.2V382.9M1034.8 379.8V382.8M1035.6 381.8V384.6M1036.4 383.6V388.6M1037.3 387.6V394.6M1038.1 393.6V395.4M1039.0 394.4V395.5M1039.8 394.5V399.6M1040.6 398.6V403.4M1042.3 398.2V400.4M1043.1 399.4V402.3M1045.6 391.4V398.3M1048.1 392.9V394.0M1050.6 386.8V388.3M1051.5 387.3V391.0M1058.2 368.0V374.5M1059.8 371.0V377.7M1061.5 370.6V376.9M1063.2 375.5V378.2M1064.0 377.2V378.8M1064.8 377.8V382.6M1065.7 381.6V385.1M1067.3 383.2V386.4M1070.7 379.4V382.4M1072.3 381.4V383.6M1077.4 348.5V353.4M1078.2 352.4V359.6M1079.0 358.6V365.4M1079.9 364.4V367.5M1080.7 366.5V368.7M1083.2 364.6V368.9M1088.2 347.5V348.5M1091.5 331.4V332.5M1092.4 331.5V338.8M1093.2 337.8V343.0M1094.1 342.0V349.7M1095.7 341.0V342.3M1097.4 339.5V343.2M1098.2 342.2V347.7M1101.6 334.6V339.0M1103.2 336.2V338.6M1104.9 330.0V343.7M1107.4 313.9V319.6M1108.2 318.6V337.1M1109.1 336.1V347.7M1113.3 314.7V317.2M1114.1 316.2V317.4M1115.8 312.7V320.2M1116.6 319.2V323.2M1117.4 322.2V327.6M1118.3 326.6V330.9M1119.9 327.9V329.9M1120.8 328.9V332.6M1121.6 331.6V333.4M1122.4 332.4V343.5M1123.3 342.5V348.0M1124.1 347.0V350.9M1126.6 337.7V351.8M1127.4 350.8V359.6M1128.3 358.6V371.4M1129.1 370.4V373.9M1130.0 372.9V380.0M1130.8 379.0V384.0M1135.0 359.1V360.5M1136.6 352.0V357.8M1137.5 356.8V365.8M1138.3 364.8V369.4M1139.1 368.4V376.6M1140.0 375.6V378.6M1141.6 377.4V384.6M1142.5 383.6V393.3M1144.1 386.4V391.8M1145.0 390.8V400.4M1145.8 399.4V407.4M1150.8 374.8V382.6M1151.7 381.6V389.6M1152.5 388.6V391.6M1154.2 389.4V392.1M1157.5 383.4V389.9M1158.3 388.9V392.7M1159.2 391.7V395.7M1160.0 394.7V404.6M1161.7 402.9V404.2M1165.9 390.0V391.3M1168.4 378.0V387.7M1169.2 386.7V394.1M1170.0 393.1V402.6M1170.9 401.6V406.1M1171.7 405.1V406.6M1175.9 401.0V402.2M1176.7 401.2V402.9M1177.5 401.9V403.1M1183.4 393.6V394.8M1184.2 393.8V395.0M1185.1 394.0V396.5M1187.6 393.5V396.8M1188.4 395.8V397.6M1189.2 396.6V398.7M1190.1 397.7V398.9M1190.9 397.9V398.9M1191.7 397.9V399.9M1192.6 398.9V400.0M1193.4 399.0V402.7M1198.4 396.6V398.5M1200.9 394.4V395.6M1202.6 393.7V395.5M1207.6 374.7V379.9M1209.3 375.5V386.1M1210.1 385.1V388.8M1210.9 387.8V391.7M1211.8 390.7V395.2M1215.1 383.7V391.3M1219.3 362.8V367.2M1220.1 366.2V369.5M1221.0 368.5V378.0M1221.8 377.0V386.5M1222.6 385.5V397.7M1224.3 395.6V399.2M1225.1 398.2V402.6M1226.0 401.6V404.7M1226.8 403.7V407.5M1230.1 389.4V393.1M1231.0 392.1V395.5M1233.5 391.6V398.1M1235.1 390.4V391.9M1236.8 388.4V390.5M1241.0 384.2V386.1M1243.5 373.1V380.1M1244.3 379.1V380.1M1246.0 377.4V380.3M1254.3 280.4V286.6M1255.2 285.6V298.8M1260.2 282.0V284.5M1261.0 283.5V295.3M1262.7 294.2V301.6M1263.5 300.6V306.6M1264.4 305.6V310.2M1270.2 264.0V268.2M1271.0 267.2V273.9M1272.7 270.9V283.3M1273.5 282.3V293.5M1274.4 292.5V297.8M1275.2 296.8V298.4M1276.9 294.9V304.1M1277.7 303.1V309.9M1278.6 308.9V314.9M1285.2 274.7V279.0M1286.9 273.7V283.7M1287.7 282.7V296.6M1288.6 295.6V299.6M1289.4 298.6V313.0M1290.2 312.0V318.8M1292.7 312.5V318.2M1294.4 301.9V305.3M1295.3 304.3V308.4M1296.1 307.4V313.8M1296.9 312.8V314.3M1299.4 312.1V314.6M1301.9 302.0V305.6M1303.6 299.6V304.0M1306.1 301.8V308.1M1306.9 307.1V317.6M1307.8 316.6V321.7M1310.3 316.3V318.7M1312.8 313.7V315.6M1315.3 308.4V313.6M1316.1 312.6V314.2M1317.8 310.7V312.1M1319.5 308.4V309.9M1322.0 307.3V310.2M1324.5 303.4V305.5M1327.8 299.4V303.4M1330.3 296.6V299.2M1331.2 298.2V303.4M1332.8 301.4V302.8M1333.7 301.8V308.4M1335.3 302.7V304.5M1337.0 301.4V304.7M1338.7 301.8V303.6M1339.5 302.6V303.6M1342.0 299.5V300.6M1343.7 296.8V298.7M1345.3 294.3V295.9M1352.0 281.3V287.7M1353.7 282.9V290.9M1354.5 289.9V307.5M1355.4 306.5V331.6M1356.2 330.6V356.8M1361.2 342.4V346.2M1362.9 342.9V344.1M1366.2 337.3V341.0M1367.9 337.6V339.6M1368.7 338.6V343.0M1369.6 342.0V345.1M1370.4 344.1V346.8M1372.9 341.2V350.6M1373.7 349.6V355.1M1374.6 354.1V356.4M1376.2 354.2V360.3M1378.7 358.0V361.1M1379.6 360.1V367.2M1380.4 366.2V373.5M1381.2 372.5V385.6M1382.1 384.6V395.5M1382.9 394.5V398.4" stroke="#ff0000" stroke-width="1.2" fill="none"/>
<line x1="429" y1="38" x2="1001" y2="38" stroke="#f9ac1c" stroke-width="2"/>
<circle cx="429" cy="38" r="6" fill="#f9ac1c"/><circle cx="1001" cy="38" r="6" fill="#f9ac1c"/>
<defs><linearGradient id="cb" x1="0" x2="1" y1="0" y2="0">
<stop offset="0.000" stop-color="#440154"/>
<stop offset="0.025" stop-color="#460a5c"/>
<stop offset="0.050" stop-color="#471365"/>
<stop offset="0.075" stop-color="#481c6d"/>
<stop offset="0.100" stop-color="#482475"/>
<stop offset="0.125" stop-color="#472c7a"/>
<stop offset="0.150" stop-color="#463480"/>
<stop offset="0.175" stop-color="#443c84"/>
<stop offset="0.200" stop-color="#414487"/>
<stop offset="0.225" stop-color="#3e4b89"/>
<stop offset="0.250" stop-color="#3b528b"/>
<stop offset="0.275" stop-color="#38588c"/>
<stop offset="0.300" stop-color="#355f8d"/>
<stop offset="0.325" stop-color="#32668e"/>
<stop offset="0.350" stop-color="#2f6c8e"/>
<stop offset="0.375" stop-color="#2c728e"/>
<stop offset="0.400" stop-color="#2a788e"/>
<stop offset="0.425" stop-color="#287e8e"/>
<stop offset="0.450" stop-color="#25848e"/>
<stop offset="0.475" stop-color="#238a8d"/>
<stop offset="0.500" stop-color="#21918c"/>
<stop offset="0.525" stop-color="#20978a"/>
<stop offset="0.550" stop-color="#1e9d89"/>
<stop offset="0.575" stop-color="#20a286"/>
<stop offset="0.600" stop-color="#22a884"/>
<stop offset="0.625" stop-color="#28ae80"/>
<stop offset="0.650" stop-color="#2fb47c"/>
<stop offset="0.675" stop-color="#3aba76"/>
<stop offset="0.700" stop-color="#44bf70"/>
<stop offset="0.725" stop-color="#51c469"/>
<stop offset="0.750" stop-color="#5ec962"/>
<stop offset="0.775" stop-color="#6ccd5a"/>
<stop offset="0.800" stop-color="#7ad151"/>
<stop offset="0.825" stop-color="#8ad546"/>
<stop offset="0.850" stop-color="#9bd93c"/>
<stop offset="0.875" stop-color="#acdc31"/>
<stop offset="0.900" stop-color="#bddf26"/>
<stop offset="0.925" stop-color="#cee11f"/>
<stop offset="0.950" stop-color="#dfe318"/>
<stop offset="0.975" stop-color="#eee51e"/>
<stop offset="1.000" stop-color="#fde725"/>
</linearGradient></defs>
<rect x="11.4" y="651" width="1398.6" height="15.2" fill="url(#cb)"/>
<rect x="55.3" y="649.5" width="1" height="2" fill="#333"/>
<rect x="169.5" y="649.5" width="1" height="2" fill="#333"/>
<rect x="283.7" y="649.5" width="1" height="2" fill="#333"/>
<rect x="397.8" y="649.5" width="1" height="2" fill="#333"/>
<rect x="512.0" y="649.5" width="1" height="2" fill="#333"/>
<rect x="626.2" y="649.5" width="1" height="2" fill="#333"/>
<rect x="740.4" y="649.5" width="1" height="2" fill="#333"/>
<rect x="854.5" y="649.5" width="1" height="2" fill="#333"/>
<rect x="968.7" y="649.5" width="1" height="2" fill="#333"/>
<rect x="1082.9" y="649.5" width="1" height="2" fill="#333"/>
<rect x="1197.0" y="649.5" width="1" height="2" fill="#333"/>
<rect x="1311.2" y="649.5" width="1" height="2" fill="#333"/>
</svg>
<div class="t" style="left:5px;top:9.5px">ETHUSDT (Binance USD<span style="font-size:9.5px;line-height:0;position:relative;top:0.6px;letter-spacing:-1.3px;margin-left:-0.8px">&#9416;</span>-M Perp)<br>Lookback: 3 months | 1 Hr timeframe</div>
<div class="t" style="right:5.1px;top:9.5px;text-align:right">12 Jan 2026 18:00 | O: 3103.45 H: 3118 L: 3093.77 C: 3107.29<br>Heatmap Price: 3.839K - 3.876K | Net Longs: 384.936M</div>
<div class="t" style="left:5px;top:677.5px">Last Updated: 20 Jan 2026 14:10 (UTC)</div>
<div class="t" style="right:5px;top:677.5px">hyblockcapital.com</div>
<div class="ax" style="left:1389px;top:88.0px;letter-spacing:-0.3px">3800.00</div>
<div class="ax" style="left:1389px;top:174.5px;letter-spacing:-0.3px">3600.00</div>
<div class="ax" style="left:1389px;top:261.0px;letter-spacing:-0.3px">3400.00</div>
<div class="ax" style="left:1389px;top:347.4px;letter-spacing:-0.3px">3200.00</div>
<div class="ax" style="left:1389px;top:434.0px;letter-spacing:-0.3px">3000.00</div>
<div class="ax" style="left:1389px;top:520.2px;letter-spacing:-0.3px">2800.00</div>
<div class="ax" style="left:83.0px;top:607.5px;width:60px;text-align:center">18 Nov</div>
<div class="ax" style="left:283.5px;top:607.5px;width:60px;text-align:center">28 Nov</div>
<div class="ax" style="left:484.0px;top:607.5px;width:60px;text-align:center">08 Dec</div>
<div class="ax" style="left:684.0px;top:607.5px;width:60px;text-align:center">18 Dec</div>
<div class="ax" style="left:884.5px;top:607.5px;width:60px;text-align:center">28 Dec</div>
<div class="ax" style="left:1084.5px;top:607.5px;width:60px;text-align:center">07 Jan</div>
<div class="ax" style="left:1285.0px;top:607.5px;width:60px;text-align:center">17 Jan</div>
<div class="ax" style="left:139.5px;top:637.5px;width:60px;text-align:center">-500.00M</div>
<div class="ax" style="left:710.4px;top:637.5px;width:60px;text-align:center">0.00</div>
<div class="ax" style="left:1281.0px;top:637.5px;width:60px;text-align:center">500.00M</div>
<div style="position:absolute;left:37.7px;top:573.9px;font-size:22.15px;line-height:26px;font-weight:bold;color:rgba(255,255,255,0.67);letter-spacing:-0.1px">HYBLOCK</div>
</body></html>
